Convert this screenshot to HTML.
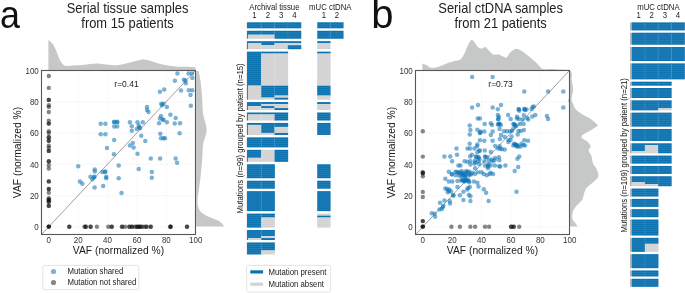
<!DOCTYPE html>
<html><head><meta charset="utf-8"><style>
html,body{margin:0;padding:0;background:#fff;width:685px;height:293px;overflow:hidden}
svg{display:block}
text{font-family:"Liberation Sans", sans-serif}
svg{will-change:transform}
</style></head><body>
<svg width="685" height="293" viewBox="0 0 685 293">
<rect width="685" height="293" fill="#fff"/>
<text x="0" y="27.8" font-size="39" fill="#111" transform="scale(0.92,1)">a</text>
<text x="371.3" y="27.6" font-size="40" fill="#111">b</text>
<text transform="translate(127.5,12.95) scale(1,1.08)" font-size="12.9" text-anchor="middle" fill="#222">Serial tissue samples</text>
<text transform="translate(127.5,28.2) scale(1,1.08)" font-size="12.9" text-anchor="middle" fill="#222">from 15 patients</text>
<text transform="translate(500.6,12.95) scale(1,1.08)" font-size="12.9" text-anchor="middle" fill="#222">Serial ctDNA samples</text>
<text transform="translate(500.6,28.2) scale(1,1.08)" font-size="12.9" text-anchor="middle" fill="#222">from 21 patients</text>
<path d="M48.40,40.00 C49.18,40.75 51.78,42.67 53.10,44.50 C54.42,46.33 55.25,48.60 56.30,51.00 C57.35,53.40 58.32,56.70 59.40,58.90 C60.48,61.10 61.57,63.02 62.80,64.20 C64.03,65.38 64.82,65.83 66.80,66.00 C68.78,66.17 72.08,65.38 74.70,65.20 C77.32,65.02 79.88,65.12 82.50,64.90 C85.12,64.68 87.98,64.15 90.40,63.90 C92.82,63.65 94.80,63.35 97.00,63.40 C99.20,63.45 100.75,63.90 103.60,64.20 C106.45,64.50 111.03,65.17 114.10,65.20 C117.17,65.23 119.38,64.83 122.00,64.40 C124.62,63.97 127.18,63.25 129.80,62.60 C132.42,61.95 135.28,61.03 137.70,60.50 C140.12,59.97 142.10,59.32 144.30,59.40 C146.50,59.48 148.50,60.33 150.90,61.00 C153.30,61.67 156.08,62.70 158.70,63.40 C161.32,64.10 163.75,64.68 166.60,65.20 C169.45,65.72 172.73,66.23 175.80,66.50 C178.87,66.77 182.37,66.72 185.00,66.80 C187.63,66.88 189.85,66.90 191.60,67.00 C193.35,67.10 194.85,67.33 195.50,67.40 L195.5,69.9 L48.4,69.9 Z" fill="#c6c7c7"/>
<path d="M198.70,70.90 C198.82,71.58 199.12,73.43 199.40,75.00 C199.68,76.57 200.08,78.13 200.40,80.30 C200.72,82.47 201.03,85.43 201.30,88.00 C201.57,90.57 201.82,93.37 202.00,95.70 C202.18,98.03 202.30,99.95 202.40,102.00 C202.50,104.05 202.50,106.17 202.60,108.00 C202.70,109.83 202.78,111.42 203.00,113.00 C203.22,114.58 203.53,116.00 203.90,117.50 C204.27,119.00 204.82,120.50 205.20,122.00 C205.58,123.50 205.97,125.17 206.20,126.50 C206.43,127.83 206.60,128.83 206.60,130.00 C206.60,131.17 206.45,132.25 206.20,133.50 C205.95,134.75 205.52,136.17 205.10,137.50 C204.68,138.83 204.07,140.08 203.70,141.50 C203.33,142.92 203.10,144.25 202.90,146.00 C202.70,147.75 202.63,149.62 202.50,152.00 C202.37,154.38 202.40,156.35 202.10,160.30 C201.80,164.25 201.25,170.75 200.70,175.70 C200.15,180.65 199.33,186.08 198.80,190.00 C198.27,193.92 197.65,196.65 197.50,199.20 C197.35,201.75 197.58,203.52 197.90,205.30 C198.22,207.08 198.67,208.62 199.40,209.90 C200.13,211.18 201.05,211.97 202.30,213.00 C203.55,214.03 205.12,215.20 206.90,216.10 C208.68,217.00 211.08,217.63 213.00,218.40 C214.92,219.17 217.00,219.93 218.40,220.70 C219.80,221.47 220.38,222.02 221.40,223.00 C222.42,223.98 223.98,226.00 224.50,226.60 L196.1,226.6 L196.1,70.9 Z" fill="#c6c7c7"/>
<line x1="48.80" y1="70.5" x2="48.80" y2="234.5" stroke="#e6e6e6" stroke-width="0.6" stroke-dasharray="1 1.2"/>
<line x1="41.5" y1="226.80" x2="195.5" y2="226.80" stroke="#e6e6e6" stroke-width="0.6" stroke-dasharray="1 1.2"/>
<line x1="78.18" y1="70.5" x2="78.18" y2="234.5" stroke="#e6e6e6" stroke-width="0.6" stroke-dasharray="1 1.2"/>
<line x1="41.5" y1="195.58" x2="195.5" y2="195.58" stroke="#e6e6e6" stroke-width="0.6" stroke-dasharray="1 1.2"/>
<line x1="107.56" y1="70.5" x2="107.56" y2="234.5" stroke="#e6e6e6" stroke-width="0.6" stroke-dasharray="1 1.2"/>
<line x1="41.5" y1="164.36" x2="195.5" y2="164.36" stroke="#e6e6e6" stroke-width="0.6" stroke-dasharray="1 1.2"/>
<line x1="136.94" y1="70.5" x2="136.94" y2="234.5" stroke="#e6e6e6" stroke-width="0.6" stroke-dasharray="1 1.2"/>
<line x1="41.5" y1="133.14" x2="195.5" y2="133.14" stroke="#e6e6e6" stroke-width="0.6" stroke-dasharray="1 1.2"/>
<line x1="166.32" y1="70.5" x2="166.32" y2="234.5" stroke="#e6e6e6" stroke-width="0.6" stroke-dasharray="1 1.2"/>
<line x1="41.5" y1="101.92" x2="195.5" y2="101.92" stroke="#e6e6e6" stroke-width="0.6" stroke-dasharray="1 1.2"/>
<line x1="195.70" y1="70.5" x2="195.70" y2="234.5" stroke="#e6e6e6" stroke-width="0.6" stroke-dasharray="1 1.2"/>
<line x1="41.5" y1="70.70" x2="195.5" y2="70.70" stroke="#e6e6e6" stroke-width="0.6" stroke-dasharray="1 1.2"/>
<line x1="41.5" y1="234.5" x2="195.5" y2="70.5" stroke="#505050" stroke-width="0.55"/>
<clipPath id="clip0"><rect x="41.5" y="70.5" width="154.00" height="164.00"/></clipPath>
<g clip-path="url(#clip0)">
<circle cx="48.8" cy="76.0" r="2.2" fill="#000" fill-opacity="0.47"/>
<circle cx="48.8" cy="87.9" r="2.2" fill="#000" fill-opacity="0.47"/>
<circle cx="48.8" cy="99.9" r="2.2" fill="#000" fill-opacity="0.47"/>
<circle cx="48.8" cy="99.9" r="2.2" fill="#000" fill-opacity="0.47"/>
<circle cx="48.8" cy="105.3" r="2.2" fill="#000" fill-opacity="0.47"/>
<circle cx="48.8" cy="106.9" r="2.2" fill="#000" fill-opacity="0.47"/>
<circle cx="48.8" cy="112.0" r="2.2" fill="#000" fill-opacity="0.47"/>
<circle cx="48.8" cy="120.6" r="2.2" fill="#000" fill-opacity="0.47"/>
<circle cx="48.8" cy="123.6" r="2.2" fill="#000" fill-opacity="0.47"/>
<circle cx="48.8" cy="123.6" r="2.2" fill="#000" fill-opacity="0.47"/>
<circle cx="48.8" cy="131.3" r="2.2" fill="#000" fill-opacity="0.47"/>
<circle cx="48.8" cy="133.0" r="2.2" fill="#000" fill-opacity="0.47"/>
<circle cx="48.8" cy="137.3" r="2.2" fill="#000" fill-opacity="0.47"/>
<circle cx="48.8" cy="137.3" r="2.2" fill="#000" fill-opacity="0.47"/>
<circle cx="48.8" cy="140.7" r="2.2" fill="#000" fill-opacity="0.47"/>
<circle cx="48.8" cy="140.7" r="2.2" fill="#000" fill-opacity="0.47"/>
<circle cx="48.8" cy="145.8" r="2.2" fill="#000" fill-opacity="0.47"/>
<circle cx="48.8" cy="147.8" r="2.2" fill="#000" fill-opacity="0.47"/>
<circle cx="48.8" cy="150.9" r="2.2" fill="#000" fill-opacity="0.47"/>
<circle cx="48.8" cy="150.9" r="2.2" fill="#000" fill-opacity="0.47"/>
<circle cx="48.8" cy="161.3" r="2.2" fill="#000" fill-opacity="0.47"/>
<circle cx="48.8" cy="161.5" r="2.2" fill="#000" fill-opacity="0.47"/>
<circle cx="48.8" cy="165.2" r="2.2" fill="#000" fill-opacity="0.47"/>
<circle cx="48.8" cy="168.6" r="2.2" fill="#000" fill-opacity="0.47"/>
<circle cx="48.8" cy="181.4" r="2.2" fill="#000" fill-opacity="0.47"/>
<circle cx="48.8" cy="181.4" r="2.2" fill="#000" fill-opacity="0.47"/>
<circle cx="48.8" cy="189.0" r="2.2" fill="#000" fill-opacity="0.47"/>
<circle cx="48.8" cy="189.0" r="2.2" fill="#000" fill-opacity="0.47"/>
<circle cx="48.8" cy="192.8" r="2.2" fill="#000" fill-opacity="0.47"/>
<circle cx="48.8" cy="198.3" r="2.2" fill="#000" fill-opacity="0.47"/>
<circle cx="48.8" cy="199.2" r="2.2" fill="#000" fill-opacity="0.47"/>
<circle cx="48.8" cy="200.2" r="2.2" fill="#000" fill-opacity="0.47"/>
<circle cx="48.8" cy="201.2" r="2.2" fill="#000" fill-opacity="0.47"/>
<circle cx="48.8" cy="202.2" r="2.2" fill="#000" fill-opacity="0.47"/>
<circle cx="48.8" cy="205.7" r="2.2" fill="#000" fill-opacity="0.47"/>
<circle cx="48.8" cy="205.9" r="2.2" fill="#000" fill-opacity="0.47"/>
<circle cx="48.8" cy="226.6" r="2.2" fill="#000" fill-opacity="0.47"/>
<circle cx="48.8" cy="226.6" r="2.2" fill="#000" fill-opacity="0.47"/>
<circle cx="48.8" cy="226.6" r="2.2" fill="#000" fill-opacity="0.47"/>
<circle cx="69.2" cy="226.8" r="2.2" fill="#000" fill-opacity="0.47"/>
<circle cx="69.4" cy="226.8" r="2.2" fill="#000" fill-opacity="0.47"/>
<circle cx="84.5" cy="226.8" r="2.2" fill="#000" fill-opacity="0.47"/>
<circle cx="85.5" cy="226.8" r="2.2" fill="#000" fill-opacity="0.47"/>
<circle cx="86.0" cy="226.8" r="2.2" fill="#000" fill-opacity="0.47"/>
<circle cx="90.4" cy="226.8" r="2.2" fill="#000" fill-opacity="0.47"/>
<circle cx="90.8" cy="226.8" r="2.2" fill="#000" fill-opacity="0.47"/>
<circle cx="96.9" cy="226.8" r="2.2" fill="#000" fill-opacity="0.47"/>
<circle cx="108.3" cy="226.8" r="2.2" fill="#000" fill-opacity="0.47"/>
<circle cx="111.5" cy="226.8" r="2.2" fill="#000" fill-opacity="0.47"/>
<circle cx="112.0" cy="226.8" r="2.2" fill="#000" fill-opacity="0.47"/>
<circle cx="121.8" cy="226.8" r="2.2" fill="#000" fill-opacity="0.47"/>
<circle cx="122.3" cy="226.8" r="2.2" fill="#000" fill-opacity="0.47"/>
<circle cx="125.1" cy="226.8" r="2.2" fill="#000" fill-opacity="0.47"/>
<circle cx="129.2" cy="226.8" r="2.2" fill="#000" fill-opacity="0.47"/>
<circle cx="129.6" cy="226.8" r="2.2" fill="#000" fill-opacity="0.47"/>
<circle cx="132.0" cy="226.8" r="2.2" fill="#000" fill-opacity="0.47"/>
<circle cx="132.4" cy="226.8" r="2.2" fill="#000" fill-opacity="0.47"/>
<circle cx="135.2" cy="226.8" r="2.2" fill="#000" fill-opacity="0.47"/>
<circle cx="136.6" cy="226.8" r="2.2" fill="#000" fill-opacity="0.47"/>
<circle cx="137.6" cy="226.8" r="2.2" fill="#000" fill-opacity="0.47"/>
<circle cx="138.6" cy="226.8" r="2.2" fill="#000" fill-opacity="0.47"/>
<circle cx="139.7" cy="226.8" r="2.2" fill="#000" fill-opacity="0.47"/>
<circle cx="140.7" cy="226.8" r="2.2" fill="#000" fill-opacity="0.47"/>
<circle cx="141.9" cy="226.8" r="2.2" fill="#000" fill-opacity="0.47"/>
<circle cx="144.1" cy="226.8" r="2.2" fill="#000" fill-opacity="0.47"/>
<circle cx="146.3" cy="226.8" r="2.2" fill="#000" fill-opacity="0.47"/>
<circle cx="146.6" cy="226.8" r="2.2" fill="#000" fill-opacity="0.47"/>
<circle cx="150.5" cy="226.8" r="2.2" fill="#000" fill-opacity="0.47"/>
<circle cx="150.9" cy="226.8" r="2.2" fill="#000" fill-opacity="0.47"/>
<circle cx="170.4" cy="226.8" r="2.2" fill="#000" fill-opacity="0.47"/>
<circle cx="170.4" cy="226.8" r="2.2" fill="#000" fill-opacity="0.47"/>
<circle cx="170.6" cy="226.8" r="2.2" fill="#000" fill-opacity="0.47"/>
<circle cx="186.9" cy="226.8" r="2.2" fill="#000" fill-opacity="0.47"/>
<circle cx="187.1" cy="226.8" r="2.2" fill="#000" fill-opacity="0.47"/>
<circle cx="177.4" cy="73.4" r="2.25" fill="#0b72b5" fill-opacity="0.55"/>
<circle cx="188.6" cy="73.4" r="2.25" fill="#0b72b5" fill-opacity="0.55"/>
<circle cx="192.0" cy="73.4" r="2.25" fill="#0b72b5" fill-opacity="0.55"/>
<circle cx="192.4" cy="77.9" r="2.25" fill="#0b72b5" fill-opacity="0.55"/>
<circle cx="174.9" cy="80.8" r="2.25" fill="#0b72b5" fill-opacity="0.55"/>
<circle cx="183.9" cy="79.7" r="2.25" fill="#0b72b5" fill-opacity="0.55"/>
<circle cx="185.4" cy="80.4" r="2.25" fill="#0b72b5" fill-opacity="0.55"/>
<circle cx="185.8" cy="83.3" r="2.25" fill="#0b72b5" fill-opacity="0.55"/>
<circle cx="181.0" cy="90.6" r="2.25" fill="#0b72b5" fill-opacity="0.55"/>
<circle cx="188.8" cy="90.2" r="2.25" fill="#0b72b5" fill-opacity="0.55"/>
<circle cx="192.3" cy="90.2" r="2.25" fill="#0b72b5" fill-opacity="0.55"/>
<circle cx="190.5" cy="95.0" r="2.25" fill="#0b72b5" fill-opacity="0.55"/>
<circle cx="164.2" cy="89.5" r="2.25" fill="#0b72b5" fill-opacity="0.55"/>
<circle cx="159.9" cy="91.8" r="2.25" fill="#0b72b5" fill-opacity="0.55"/>
<circle cx="161.3" cy="103.8" r="2.25" fill="#0b72b5" fill-opacity="0.55"/>
<circle cx="163.5" cy="103.8" r="2.25" fill="#0b72b5" fill-opacity="0.55"/>
<circle cx="162.0" cy="105.2" r="2.25" fill="#0b72b5" fill-opacity="0.55"/>
<circle cx="166.9" cy="107.1" r="2.25" fill="#0b72b5" fill-opacity="0.55"/>
<circle cx="147.0" cy="107.1" r="2.25" fill="#0b72b5" fill-opacity="0.55"/>
<circle cx="190.8" cy="105.7" r="2.25" fill="#0b72b5" fill-opacity="0.55"/>
<circle cx="147.0" cy="110.1" r="2.25" fill="#0b72b5" fill-opacity="0.55"/>
<circle cx="148.5" cy="112.0" r="2.25" fill="#0b72b5" fill-opacity="0.55"/>
<circle cx="170.4" cy="114.8" r="2.25" fill="#0b72b5" fill-opacity="0.55"/>
<circle cx="175.6" cy="118.1" r="2.25" fill="#0b72b5" fill-opacity="0.55"/>
<circle cx="161.0" cy="115.9" r="2.25" fill="#0b72b5" fill-opacity="0.55"/>
<circle cx="159.9" cy="118.4" r="2.25" fill="#0b72b5" fill-opacity="0.55"/>
<circle cx="162.8" cy="119.6" r="2.25" fill="#0b72b5" fill-opacity="0.55"/>
<circle cx="163.5" cy="120.0" r="2.25" fill="#0b72b5" fill-opacity="0.55"/>
<circle cx="166.9" cy="122.2" r="2.25" fill="#0b72b5" fill-opacity="0.55"/>
<circle cx="159.1" cy="123.2" r="2.25" fill="#0b72b5" fill-opacity="0.55"/>
<circle cx="174.7" cy="123.5" r="2.25" fill="#0b72b5" fill-opacity="0.55"/>
<circle cx="180.0" cy="123.2" r="2.25" fill="#0b72b5" fill-opacity="0.55"/>
<circle cx="179.6" cy="133.2" r="2.25" fill="#0b72b5" fill-opacity="0.55"/>
<circle cx="160.3" cy="133.8" r="2.25" fill="#0b72b5" fill-opacity="0.55"/>
<circle cx="161.0" cy="138.3" r="2.25" fill="#0b72b5" fill-opacity="0.55"/>
<circle cx="163.5" cy="138.3" r="2.25" fill="#0b72b5" fill-opacity="0.55"/>
<circle cx="165.0" cy="138.3" r="2.25" fill="#0b72b5" fill-opacity="0.55"/>
<circle cx="100.7" cy="123.7" r="2.25" fill="#0b72b5" fill-opacity="0.55"/>
<circle cx="105.4" cy="123.7" r="2.25" fill="#0b72b5" fill-opacity="0.55"/>
<circle cx="100.7" cy="134.2" r="2.25" fill="#0b72b5" fill-opacity="0.55"/>
<circle cx="105.4" cy="134.2" r="2.25" fill="#0b72b5" fill-opacity="0.55"/>
<circle cx="114.2" cy="122.2" r="2.25" fill="#0b72b5" fill-opacity="0.55"/>
<circle cx="117.2" cy="122.2" r="2.25" fill="#0b72b5" fill-opacity="0.55"/>
<circle cx="114.2" cy="121.8" r="2.25" fill="#0b72b5" fill-opacity="0.55"/>
<circle cx="117.2" cy="121.8" r="2.25" fill="#0b72b5" fill-opacity="0.55"/>
<circle cx="114.2" cy="126.6" r="2.25" fill="#0b72b5" fill-opacity="0.55"/>
<circle cx="117.2" cy="126.6" r="2.25" fill="#0b72b5" fill-opacity="0.55"/>
<circle cx="114.2" cy="140.0" r="2.25" fill="#0b72b5" fill-opacity="0.55"/>
<circle cx="129.9" cy="122.2" r="2.25" fill="#0b72b5" fill-opacity="0.55"/>
<circle cx="131.8" cy="126.2" r="2.25" fill="#0b72b5" fill-opacity="0.55"/>
<circle cx="131.8" cy="130.8" r="2.25" fill="#0b72b5" fill-opacity="0.55"/>
<circle cx="137.5" cy="122.2" r="2.25" fill="#0b72b5" fill-opacity="0.55"/>
<circle cx="142.8" cy="122.2" r="2.25" fill="#0b72b5" fill-opacity="0.55"/>
<circle cx="138.7" cy="125.4" r="2.25" fill="#0b72b5" fill-opacity="0.55"/>
<circle cx="139.4" cy="127.6" r="2.25" fill="#0b72b5" fill-opacity="0.55"/>
<circle cx="139.9" cy="128.0" r="2.25" fill="#0b72b5" fill-opacity="0.55"/>
<circle cx="136.8" cy="129.1" r="2.25" fill="#0b72b5" fill-opacity="0.55"/>
<circle cx="141.3" cy="135.7" r="2.25" fill="#0b72b5" fill-opacity="0.55"/>
<circle cx="145.3" cy="141.1" r="2.25" fill="#0b72b5" fill-opacity="0.55"/>
<circle cx="132.8" cy="143.0" r="2.25" fill="#0b72b5" fill-opacity="0.55"/>
<circle cx="129.9" cy="145.4" r="2.25" fill="#0b72b5" fill-opacity="0.55"/>
<circle cx="107.0" cy="148.0" r="2.25" fill="#0b72b5" fill-opacity="0.55"/>
<circle cx="113.9" cy="154.2" r="2.25" fill="#0b72b5" fill-opacity="0.55"/>
<circle cx="133.6" cy="147.5" r="2.25" fill="#0b72b5" fill-opacity="0.55"/>
<circle cx="137.5" cy="153.7" r="2.25" fill="#0b72b5" fill-opacity="0.55"/>
<circle cx="150.8" cy="158.5" r="2.25" fill="#0b72b5" fill-opacity="0.55"/>
<circle cx="160.1" cy="158.5" r="2.25" fill="#0b72b5" fill-opacity="0.55"/>
<circle cx="175.6" cy="158.5" r="2.25" fill="#0b72b5" fill-opacity="0.55"/>
<circle cx="177.1" cy="162.7" r="2.25" fill="#0b72b5" fill-opacity="0.55"/>
<circle cx="118.7" cy="165.4" r="2.25" fill="#0b72b5" fill-opacity="0.55"/>
<circle cx="138.7" cy="169.0" r="2.25" fill="#0b72b5" fill-opacity="0.55"/>
<circle cx="151.8" cy="171.9" r="2.25" fill="#0b72b5" fill-opacity="0.55"/>
<circle cx="151.8" cy="177.8" r="2.25" fill="#0b72b5" fill-opacity="0.55"/>
<circle cx="118.7" cy="178.2" r="2.25" fill="#0b72b5" fill-opacity="0.55"/>
<circle cx="102.3" cy="171.9" r="2.25" fill="#0b72b5" fill-opacity="0.55"/>
<circle cx="105.0" cy="171.9" r="2.25" fill="#0b72b5" fill-opacity="0.55"/>
<circle cx="105.3" cy="171.5" r="2.25" fill="#0b72b5" fill-opacity="0.55"/>
<circle cx="106.2" cy="176.7" r="2.25" fill="#0b72b5" fill-opacity="0.55"/>
<circle cx="106.2" cy="178.2" r="2.25" fill="#0b72b5" fill-opacity="0.55"/>
<circle cx="78.2" cy="166.2" r="2.25" fill="#0b72b5" fill-opacity="0.55"/>
<circle cx="94.7" cy="169.6" r="2.25" fill="#0b72b5" fill-opacity="0.55"/>
<circle cx="94.8" cy="171.6" r="2.25" fill="#0b72b5" fill-opacity="0.55"/>
<circle cx="90.5" cy="176.7" r="2.25" fill="#0b72b5" fill-opacity="0.55"/>
<circle cx="93.9" cy="177.3" r="2.25" fill="#0b72b5" fill-opacity="0.55"/>
<circle cx="92.4" cy="179.2" r="2.25" fill="#0b72b5" fill-opacity="0.55"/>
<circle cx="94.5" cy="176.8" r="2.25" fill="#0b72b5" fill-opacity="0.55"/>
<circle cx="79.9" cy="181.5" r="2.25" fill="#0b72b5" fill-opacity="0.55"/>
<circle cx="82.3" cy="183.7" r="2.25" fill="#0b72b5" fill-opacity="0.55"/>
<circle cx="94.6" cy="187.5" r="2.25" fill="#0b72b5" fill-opacity="0.55"/>
<circle cx="103.2" cy="185.9" r="2.25" fill="#0b72b5" fill-opacity="0.55"/>
<circle cx="121.5" cy="193.0" r="2.25" fill="#0b72b5" fill-opacity="0.55"/>
</g>
<rect x="41.5" y="70.5" width="154.00" height="164.00" fill="none" stroke="#575757" stroke-width="1.1"/>
<text transform="translate(48.80,242.8) scale(1,1.1)" font-size="8" text-anchor="middle" fill="#333">0</text>
<text transform="translate(38.80,230.15) scale(1,1.1)" font-size="8" text-anchor="end" fill="#333">0</text>
<text transform="translate(78.18,242.8) scale(1,1.1)" font-size="8" text-anchor="middle" fill="#333">20</text>
<text transform="translate(38.80,198.93) scale(1,1.1)" font-size="8" text-anchor="end" fill="#333">20</text>
<text transform="translate(107.56,242.8) scale(1,1.1)" font-size="8" text-anchor="middle" fill="#333">40</text>
<text transform="translate(38.80,167.71) scale(1,1.1)" font-size="8" text-anchor="end" fill="#333">40</text>
<text transform="translate(136.94,242.8) scale(1,1.1)" font-size="8" text-anchor="middle" fill="#333">60</text>
<text transform="translate(38.80,136.49) scale(1,1.1)" font-size="8" text-anchor="end" fill="#333">60</text>
<text transform="translate(166.32,242.8) scale(1,1.1)" font-size="8" text-anchor="middle" fill="#333">80</text>
<text transform="translate(38.80,105.27) scale(1,1.1)" font-size="8" text-anchor="end" fill="#333">80</text>
<text transform="translate(195.70,242.8) scale(1,1.1)" font-size="8" text-anchor="middle" fill="#333">100</text>
<text transform="translate(38.80,74.05) scale(1,1.1)" font-size="8" text-anchor="end" fill="#333">100</text>
<text transform="translate(118.50,253.8) scale(1,1.1)" font-size="10.3" text-anchor="middle" fill="#1a1a1a">VAF (normalized %)</text>
<text transform="translate(21.30,152.50) rotate(-90) scale(1,1.04)" font-size="10.3" text-anchor="middle" fill="#1a1a1a">VAF (normalized %)</text>
<text transform="translate(114.30,86.6) scale(1,1.1)" font-size="8.5" fill="#1a1a1a">r=0.41</text>
<path d="M422.30,63.40 C422.97,63.67 424.98,64.33 426.30,65.00 C427.62,65.67 428.67,66.97 430.20,67.40 C431.73,67.83 433.53,67.92 435.50,67.60 C437.47,67.28 439.82,66.30 442.00,65.50 C444.18,64.70 446.40,63.60 448.60,62.80 C450.80,62.00 453.23,61.27 455.20,60.70 C457.17,60.13 458.87,60.58 460.40,59.40 C461.93,58.22 463.08,56.08 464.40,53.60 C465.72,51.12 467.12,46.77 468.30,44.50 C469.48,42.23 470.53,40.45 471.50,40.00 C472.47,39.55 472.97,40.53 474.10,41.80 C475.23,43.07 476.98,46.50 478.30,47.60 C479.62,48.70 480.82,48.48 482.00,48.40 C483.18,48.32 484.18,46.67 485.40,47.10 C486.62,47.53 487.98,49.75 489.30,51.00 C490.62,52.25 491.77,54.03 493.30,54.60 C494.83,55.17 496.97,54.12 498.50,54.40 C500.03,54.68 501.18,55.80 502.50,56.30 C503.82,56.80 505.08,58.07 506.40,57.40 C507.72,56.73 508.87,53.72 510.40,52.30 C511.93,50.88 513.85,49.20 515.60,48.90 C517.35,48.60 519.15,49.62 520.90,50.50 C522.65,51.38 524.13,52.72 526.10,54.20 C528.07,55.68 530.73,57.73 532.70,59.40 C534.67,61.07 536.37,62.70 537.90,64.20 C539.43,65.70 540.37,67.57 541.90,68.40 C543.43,69.23 545.35,69.10 547.10,69.20 C548.85,69.30 550.20,68.93 552.40,69.00 C554.60,69.07 557.45,69.47 560.30,69.60 C563.15,69.73 567.97,69.77 569.50,69.80 L569.5,69.9 L422.3,69.9 Z" fill="#c6c7c7"/>
<path d="M570.80,70.90 C571.00,71.48 571.88,73.03 572.00,74.40 C572.12,75.77 571.43,77.52 571.50,79.10 C571.57,80.68 572.12,82.10 572.40,83.90 C572.68,85.70 573.27,87.90 573.20,89.90 C573.13,91.90 572.28,94.30 572.00,95.90 C571.72,97.50 571.30,98.10 571.50,99.50 C571.70,100.90 572.53,102.72 573.20,104.30 C573.87,105.88 574.12,107.42 575.50,109.00 C576.88,110.58 579.10,112.20 581.50,113.80 C583.90,115.40 587.50,117.00 589.90,118.60 C592.30,120.20 594.62,122.22 595.90,123.40 C597.18,124.58 598.47,124.55 597.60,125.70 C596.73,126.85 593.38,128.52 590.70,130.30 C588.02,132.08 582.02,134.48 581.50,136.40 C580.98,138.32 586.07,140.13 587.60,141.80 C589.13,143.47 590.53,144.97 590.70,146.40 C590.87,147.83 588.48,148.85 588.60,150.40 C588.72,151.95 590.67,153.53 591.40,155.70 C592.13,157.87 592.10,161.10 593.00,163.40 C593.90,165.70 595.92,167.33 596.80,169.50 C597.68,171.67 598.82,174.35 598.30,176.40 C597.78,178.45 595.48,180.03 593.70,181.80 C591.92,183.57 589.00,185.63 587.60,187.00 C586.20,188.37 585.93,188.73 585.30,190.00 C584.67,191.27 584.32,192.93 583.80,194.60 C583.28,196.27 583.35,198.22 582.20,200.00 C581.05,201.78 578.43,203.38 576.90,205.30 C575.37,207.22 573.77,209.32 573.00,211.50 C572.23,213.68 571.92,216.48 572.30,218.40 C572.68,220.32 574.42,221.67 575.30,223.00 C576.18,224.33 577.22,225.83 577.60,226.40 L570,226.6 L570,70.9 Z" fill="#c6c7c7"/>
<line x1="422.80" y1="70.5" x2="422.80" y2="234.5" stroke="#e6e6e6" stroke-width="0.6" stroke-dasharray="1 1.2"/>
<line x1="415.5" y1="226.80" x2="569.5" y2="226.80" stroke="#e6e6e6" stroke-width="0.6" stroke-dasharray="1 1.2"/>
<line x1="452.18" y1="70.5" x2="452.18" y2="234.5" stroke="#e6e6e6" stroke-width="0.6" stroke-dasharray="1 1.2"/>
<line x1="415.5" y1="195.58" x2="569.5" y2="195.58" stroke="#e6e6e6" stroke-width="0.6" stroke-dasharray="1 1.2"/>
<line x1="481.56" y1="70.5" x2="481.56" y2="234.5" stroke="#e6e6e6" stroke-width="0.6" stroke-dasharray="1 1.2"/>
<line x1="415.5" y1="164.36" x2="569.5" y2="164.36" stroke="#e6e6e6" stroke-width="0.6" stroke-dasharray="1 1.2"/>
<line x1="510.94" y1="70.5" x2="510.94" y2="234.5" stroke="#e6e6e6" stroke-width="0.6" stroke-dasharray="1 1.2"/>
<line x1="415.5" y1="133.14" x2="569.5" y2="133.14" stroke="#e6e6e6" stroke-width="0.6" stroke-dasharray="1 1.2"/>
<line x1="540.32" y1="70.5" x2="540.32" y2="234.5" stroke="#e6e6e6" stroke-width="0.6" stroke-dasharray="1 1.2"/>
<line x1="415.5" y1="101.92" x2="569.5" y2="101.92" stroke="#e6e6e6" stroke-width="0.6" stroke-dasharray="1 1.2"/>
<line x1="569.70" y1="70.5" x2="569.70" y2="234.5" stroke="#e6e6e6" stroke-width="0.6" stroke-dasharray="1 1.2"/>
<line x1="415.5" y1="70.70" x2="569.5" y2="70.70" stroke="#e6e6e6" stroke-width="0.6" stroke-dasharray="1 1.2"/>
<line x1="415.5" y1="234.5" x2="569.5" y2="70.5" stroke="#505050" stroke-width="0.55"/>
<clipPath id="clip374"><rect x="415.5" y="70.5" width="154.00" height="164.00"/></clipPath>
<g clip-path="url(#clip374)">
<circle cx="422.8" cy="131.3" r="2.2" fill="#000" fill-opacity="0.47"/>
<circle cx="422.8" cy="156.6" r="2.2" fill="#000" fill-opacity="0.47"/>
<circle cx="422.8" cy="172.2" r="2.2" fill="#000" fill-opacity="0.47"/>
<circle cx="422.8" cy="172.8" r="2.2" fill="#000" fill-opacity="0.47"/>
<circle cx="422.8" cy="173.4" r="2.2" fill="#000" fill-opacity="0.47"/>
<circle cx="422.8" cy="176.3" r="2.2" fill="#000" fill-opacity="0.47"/>
<circle cx="422.8" cy="191.9" r="2.2" fill="#000" fill-opacity="0.47"/>
<circle cx="422.8" cy="197.0" r="2.2" fill="#000" fill-opacity="0.47"/>
<circle cx="422.8" cy="221.1" r="2.2" fill="#000" fill-opacity="0.47"/>
<circle cx="422.8" cy="221.1" r="2.2" fill="#000" fill-opacity="0.47"/>
<circle cx="422.8" cy="226.6" r="2.2" fill="#000" fill-opacity="0.47"/>
<circle cx="422.8" cy="226.6" r="2.2" fill="#000" fill-opacity="0.47"/>
<circle cx="422.8" cy="226.6" r="2.2" fill="#000" fill-opacity="0.47"/>
<circle cx="451.4" cy="226.8" r="2.2" fill="#000" fill-opacity="0.47"/>
<circle cx="459.9" cy="226.8" r="2.2" fill="#000" fill-opacity="0.47"/>
<circle cx="470.4" cy="226.8" r="2.2" fill="#000" fill-opacity="0.47"/>
<circle cx="475.1" cy="226.8" r="2.2" fill="#000" fill-opacity="0.47"/>
<circle cx="485.0" cy="226.8" r="2.2" fill="#000" fill-opacity="0.47"/>
<circle cx="489.1" cy="226.8" r="2.2" fill="#000" fill-opacity="0.47"/>
<circle cx="511.0" cy="226.8" r="2.2" fill="#000" fill-opacity="0.47"/>
<circle cx="511.2" cy="226.8" r="2.2" fill="#000" fill-opacity="0.47"/>
<circle cx="513.4" cy="226.8" r="2.2" fill="#000" fill-opacity="0.47"/>
<circle cx="514.0" cy="226.8" r="2.2" fill="#000" fill-opacity="0.47"/>
<circle cx="519.2" cy="226.8" r="2.2" fill="#000" fill-opacity="0.47"/>
<circle cx="472.1" cy="77.1" r="2.25" fill="#0b72b5" fill-opacity="0.55"/>
<circle cx="492.6" cy="77.1" r="2.25" fill="#0b72b5" fill-opacity="0.55"/>
<circle cx="478.0" cy="104.9" r="2.25" fill="#0b72b5" fill-opacity="0.55"/>
<circle cx="472.1" cy="107.4" r="2.25" fill="#0b72b5" fill-opacity="0.55"/>
<circle cx="492.6" cy="107.4" r="2.25" fill="#0b72b5" fill-opacity="0.55"/>
<circle cx="501.0" cy="104.9" r="2.25" fill="#0b72b5" fill-opacity="0.55"/>
<circle cx="497.8" cy="109.2" r="2.25" fill="#0b72b5" fill-opacity="0.55"/>
<circle cx="497.8" cy="114.9" r="2.25" fill="#0b72b5" fill-opacity="0.55"/>
<circle cx="498.9" cy="116.7" r="2.25" fill="#0b72b5" fill-opacity="0.55"/>
<circle cx="498.1" cy="118.9" r="2.25" fill="#0b72b5" fill-opacity="0.55"/>
<circle cx="508.1" cy="114.9" r="2.25" fill="#0b72b5" fill-opacity="0.55"/>
<circle cx="510.7" cy="118.9" r="2.25" fill="#0b72b5" fill-opacity="0.55"/>
<circle cx="477.7" cy="118.4" r="2.25" fill="#0b72b5" fill-opacity="0.55"/>
<circle cx="479.9" cy="118.4" r="2.25" fill="#0b72b5" fill-opacity="0.55"/>
<circle cx="484.7" cy="124.0" r="2.25" fill="#0b72b5" fill-opacity="0.55"/>
<circle cx="490.8" cy="123.2" r="2.25" fill="#0b72b5" fill-opacity="0.55"/>
<circle cx="492.0" cy="125.0" r="2.25" fill="#0b72b5" fill-opacity="0.55"/>
<circle cx="498.1" cy="124.3" r="2.25" fill="#0b72b5" fill-opacity="0.55"/>
<circle cx="499.3" cy="123.7" r="2.25" fill="#0b72b5" fill-opacity="0.55"/>
<circle cx="500.8" cy="125.1" r="2.25" fill="#0b72b5" fill-opacity="0.55"/>
<circle cx="469.7" cy="125.4" r="2.25" fill="#0b72b5" fill-opacity="0.55"/>
<circle cx="470.4" cy="130.1" r="2.25" fill="#0b72b5" fill-opacity="0.55"/>
<circle cx="469.7" cy="134.5" r="2.25" fill="#0b72b5" fill-opacity="0.55"/>
<circle cx="477.4" cy="129.8" r="2.25" fill="#0b72b5" fill-opacity="0.55"/>
<circle cx="479.9" cy="132.7" r="2.25" fill="#0b72b5" fill-opacity="0.55"/>
<circle cx="480.6" cy="131.6" r="2.25" fill="#0b72b5" fill-opacity="0.55"/>
<circle cx="484.3" cy="131.6" r="2.25" fill="#0b72b5" fill-opacity="0.55"/>
<circle cx="492.6" cy="131.6" r="2.25" fill="#0b72b5" fill-opacity="0.55"/>
<circle cx="490.8" cy="134.9" r="2.25" fill="#0b72b5" fill-opacity="0.55"/>
<circle cx="499.6" cy="129.1" r="2.25" fill="#0b72b5" fill-opacity="0.55"/>
<circle cx="501.0" cy="134.9" r="2.25" fill="#0b72b5" fill-opacity="0.55"/>
<circle cx="504.0" cy="131.3" r="2.25" fill="#0b72b5" fill-opacity="0.55"/>
<circle cx="506.9" cy="131.3" r="2.25" fill="#0b72b5" fill-opacity="0.55"/>
<circle cx="510.1" cy="131.3" r="2.25" fill="#0b72b5" fill-opacity="0.55"/>
<circle cx="504.7" cy="137.1" r="2.25" fill="#0b72b5" fill-opacity="0.55"/>
<circle cx="508.4" cy="140.0" r="2.25" fill="#0b72b5" fill-opacity="0.55"/>
<circle cx="510.5" cy="140.0" r="2.25" fill="#0b72b5" fill-opacity="0.55"/>
<circle cx="479.9" cy="140.3" r="2.25" fill="#0b72b5" fill-opacity="0.55"/>
<circle cx="484.3" cy="140.8" r="2.25" fill="#0b72b5" fill-opacity="0.55"/>
<circle cx="492.6" cy="140.8" r="2.25" fill="#0b72b5" fill-opacity="0.55"/>
<circle cx="499.9" cy="138.9" r="2.25" fill="#0b72b5" fill-opacity="0.55"/>
<circle cx="469.7" cy="143.7" r="2.25" fill="#0b72b5" fill-opacity="0.55"/>
<circle cx="477.4" cy="144.4" r="2.25" fill="#0b72b5" fill-opacity="0.55"/>
<circle cx="477.0" cy="146.2" r="2.25" fill="#0b72b5" fill-opacity="0.55"/>
<circle cx="495.2" cy="145.9" r="2.25" fill="#0b72b5" fill-opacity="0.55"/>
<circle cx="499.6" cy="146.2" r="2.25" fill="#0b72b5" fill-opacity="0.55"/>
<circle cx="456.5" cy="148.6" r="2.25" fill="#0b72b5" fill-opacity="0.55"/>
<circle cx="467.5" cy="148.6" r="2.25" fill="#0b72b5" fill-opacity="0.55"/>
<circle cx="470.1" cy="148.6" r="2.25" fill="#0b72b5" fill-opacity="0.55"/>
<circle cx="474.5" cy="148.6" r="2.25" fill="#0b72b5" fill-opacity="0.55"/>
<circle cx="479.4" cy="150.5" r="2.25" fill="#0b72b5" fill-opacity="0.55"/>
<circle cx="477.4" cy="152.2" r="2.25" fill="#0b72b5" fill-opacity="0.55"/>
<circle cx="484.7" cy="150.5" r="2.25" fill="#0b72b5" fill-opacity="0.55"/>
<circle cx="490.8" cy="151.9" r="2.25" fill="#0b72b5" fill-opacity="0.55"/>
<circle cx="500.3" cy="148.6" r="2.25" fill="#0b72b5" fill-opacity="0.55"/>
<circle cx="504.7" cy="149.6" r="2.25" fill="#0b72b5" fill-opacity="0.55"/>
<circle cx="508.4" cy="142.0" r="2.25" fill="#0b72b5" fill-opacity="0.55"/>
<circle cx="444.4" cy="156.6" r="2.25" fill="#0b72b5" fill-opacity="0.55"/>
<circle cx="450.2" cy="156.6" r="2.25" fill="#0b72b5" fill-opacity="0.55"/>
<circle cx="457.0" cy="154.8" r="2.25" fill="#0b72b5" fill-opacity="0.55"/>
<circle cx="452.1" cy="161.3" r="2.25" fill="#0b72b5" fill-opacity="0.55"/>
<circle cx="470.1" cy="156.6" r="2.25" fill="#0b72b5" fill-opacity="0.55"/>
<circle cx="471.9" cy="154.8" r="2.25" fill="#0b72b5" fill-opacity="0.55"/>
<circle cx="475.9" cy="156.6" r="2.25" fill="#0b72b5" fill-opacity="0.55"/>
<circle cx="478.4" cy="157.3" r="2.25" fill="#0b72b5" fill-opacity="0.55"/>
<circle cx="479.4" cy="159.2" r="2.25" fill="#0b72b5" fill-opacity="0.55"/>
<circle cx="485.0" cy="156.6" r="2.25" fill="#0b72b5" fill-opacity="0.55"/>
<circle cx="487.2" cy="157.3" r="2.25" fill="#0b72b5" fill-opacity="0.55"/>
<circle cx="491.6" cy="159.5" r="2.25" fill="#0b72b5" fill-opacity="0.55"/>
<circle cx="494.5" cy="160.2" r="2.25" fill="#0b72b5" fill-opacity="0.55"/>
<circle cx="498.9" cy="157.3" r="2.25" fill="#0b72b5" fill-opacity="0.55"/>
<circle cx="499.3" cy="160.2" r="2.25" fill="#0b72b5" fill-opacity="0.55"/>
<circle cx="464.6" cy="161.3" r="2.25" fill="#0b72b5" fill-opacity="0.55"/>
<circle cx="467.5" cy="161.7" r="2.25" fill="#0b72b5" fill-opacity="0.55"/>
<circle cx="470.4" cy="164.6" r="2.25" fill="#0b72b5" fill-opacity="0.55"/>
<circle cx="474.5" cy="163.6" r="2.25" fill="#0b72b5" fill-opacity="0.55"/>
<circle cx="479.2" cy="163.9" r="2.25" fill="#0b72b5" fill-opacity="0.55"/>
<circle cx="458.4" cy="165.4" r="2.25" fill="#0b72b5" fill-opacity="0.55"/>
<circle cx="460.5" cy="165.4" r="2.25" fill="#0b72b5" fill-opacity="0.55"/>
<circle cx="485.0" cy="165.4" r="2.25" fill="#0b72b5" fill-opacity="0.55"/>
<circle cx="487.9" cy="166.5" r="2.25" fill="#0b72b5" fill-opacity="0.55"/>
<circle cx="488.6" cy="163.9" r="2.25" fill="#0b72b5" fill-opacity="0.55"/>
<circle cx="494.9" cy="165.6" r="2.25" fill="#0b72b5" fill-opacity="0.55"/>
<circle cx="500.3" cy="166.5" r="2.25" fill="#0b72b5" fill-opacity="0.55"/>
<circle cx="505.4" cy="165.6" r="2.25" fill="#0b72b5" fill-opacity="0.55"/>
<circle cx="475.1" cy="168.3" r="2.25" fill="#0b72b5" fill-opacity="0.55"/>
<circle cx="487.9" cy="168.3" r="2.25" fill="#0b72b5" fill-opacity="0.55"/>
<circle cx="470.4" cy="161.2" r="2.25" fill="#0b72b5" fill-opacity="0.55"/>
<circle cx="475.0" cy="160.6" r="2.25" fill="#0b72b5" fill-opacity="0.55"/>
<circle cx="478.5" cy="161.2" r="2.25" fill="#0b72b5" fill-opacity="0.55"/>
<circle cx="484.4" cy="161.2" r="2.25" fill="#0b72b5" fill-opacity="0.55"/>
<circle cx="489.0" cy="160.6" r="2.25" fill="#0b72b5" fill-opacity="0.55"/>
<circle cx="492.6" cy="161.2" r="2.25" fill="#0b72b5" fill-opacity="0.55"/>
<circle cx="514.7" cy="171.1" r="2.25" fill="#0b72b5" fill-opacity="0.55"/>
<circle cx="518.2" cy="167.0" r="2.25" fill="#0b72b5" fill-opacity="0.55"/>
<circle cx="448.8" cy="171.7" r="2.25" fill="#0b72b5" fill-opacity="0.55"/>
<circle cx="451.7" cy="174.0" r="2.25" fill="#0b72b5" fill-opacity="0.55"/>
<circle cx="456.4" cy="171.7" r="2.25" fill="#0b72b5" fill-opacity="0.55"/>
<circle cx="458.7" cy="172.8" r="2.25" fill="#0b72b5" fill-opacity="0.55"/>
<circle cx="461.6" cy="171.1" r="2.25" fill="#0b72b5" fill-opacity="0.55"/>
<circle cx="463.9" cy="172.8" r="2.25" fill="#0b72b5" fill-opacity="0.55"/>
<circle cx="466.3" cy="171.1" r="2.25" fill="#0b72b5" fill-opacity="0.55"/>
<circle cx="469.2" cy="171.7" r="2.25" fill="#0b72b5" fill-opacity="0.55"/>
<circle cx="472.1" cy="172.8" r="2.25" fill="#0b72b5" fill-opacity="0.55"/>
<circle cx="475.0" cy="174.0" r="2.25" fill="#0b72b5" fill-opacity="0.55"/>
<circle cx="478.0" cy="172.3" r="2.25" fill="#0b72b5" fill-opacity="0.55"/>
<circle cx="481.5" cy="172.3" r="2.25" fill="#0b72b5" fill-opacity="0.55"/>
<circle cx="483.8" cy="174.0" r="2.25" fill="#0b72b5" fill-opacity="0.55"/>
<circle cx="486.7" cy="175.2" r="2.25" fill="#0b72b5" fill-opacity="0.55"/>
<circle cx="489.6" cy="174.0" r="2.25" fill="#0b72b5" fill-opacity="0.55"/>
<circle cx="493.1" cy="174.0" r="2.25" fill="#0b72b5" fill-opacity="0.55"/>
<circle cx="455.8" cy="175.2" r="2.25" fill="#0b72b5" fill-opacity="0.55"/>
<circle cx="459.3" cy="175.8" r="2.25" fill="#0b72b5" fill-opacity="0.55"/>
<circle cx="462.8" cy="174.6" r="2.25" fill="#0b72b5" fill-opacity="0.55"/>
<circle cx="465.1" cy="175.8" r="2.25" fill="#0b72b5" fill-opacity="0.55"/>
<circle cx="468.0" cy="175.2" r="2.25" fill="#0b72b5" fill-opacity="0.55"/>
<circle cx="471.0" cy="174.6" r="2.25" fill="#0b72b5" fill-opacity="0.55"/>
<circle cx="445.3" cy="178.7" r="2.25" fill="#0b72b5" fill-opacity="0.55"/>
<circle cx="448.8" cy="181.6" r="2.25" fill="#0b72b5" fill-opacity="0.55"/>
<circle cx="452.3" cy="181.6" r="2.25" fill="#0b72b5" fill-opacity="0.55"/>
<circle cx="457.5" cy="181.0" r="2.25" fill="#0b72b5" fill-opacity="0.55"/>
<circle cx="461.6" cy="179.9" r="2.25" fill="#0b72b5" fill-opacity="0.55"/>
<circle cx="463.4" cy="180.4" r="2.25" fill="#0b72b5" fill-opacity="0.55"/>
<circle cx="464.5" cy="181.6" r="2.25" fill="#0b72b5" fill-opacity="0.55"/>
<circle cx="468.6" cy="180.4" r="2.25" fill="#0b72b5" fill-opacity="0.55"/>
<circle cx="469.2" cy="182.2" r="2.25" fill="#0b72b5" fill-opacity="0.55"/>
<circle cx="473.9" cy="181.6" r="2.25" fill="#0b72b5" fill-opacity="0.55"/>
<circle cx="477.4" cy="182.8" r="2.25" fill="#0b72b5" fill-opacity="0.55"/>
<circle cx="478.5" cy="186.6" r="2.25" fill="#0b72b5" fill-opacity="0.55"/>
<circle cx="457.5" cy="186.9" r="2.25" fill="#0b72b5" fill-opacity="0.55"/>
<circle cx="468.0" cy="188.0" r="2.25" fill="#0b72b5" fill-opacity="0.55"/>
<circle cx="469.8" cy="186.9" r="2.25" fill="#0b72b5" fill-opacity="0.55"/>
<circle cx="445.3" cy="188.6" r="2.25" fill="#0b72b5" fill-opacity="0.55"/>
<circle cx="447.0" cy="189.0" r="2.25" fill="#0b72b5" fill-opacity="0.55"/>
<circle cx="448.8" cy="191.0" r="2.25" fill="#0b72b5" fill-opacity="0.55"/>
<circle cx="451.1" cy="191.5" r="2.25" fill="#0b72b5" fill-opacity="0.55"/>
<circle cx="463.4" cy="191.8" r="2.25" fill="#0b72b5" fill-opacity="0.55"/>
<circle cx="483.8" cy="189.2" r="2.25" fill="#0b72b5" fill-opacity="0.55"/>
<circle cx="486.1" cy="192.7" r="2.25" fill="#0b72b5" fill-opacity="0.55"/>
<circle cx="516.5" cy="191.8" r="2.25" fill="#0b72b5" fill-opacity="0.55"/>
<circle cx="466.0" cy="179.8" r="2.25" fill="#0b72b5" fill-opacity="0.55"/>
<circle cx="467.2" cy="189.4" r="2.25" fill="#0b72b5" fill-opacity="0.55"/>
<circle cx="453.2" cy="195.2" r="2.25" fill="#0b72b5" fill-opacity="0.55"/>
<circle cx="459.9" cy="195.2" r="2.25" fill="#0b72b5" fill-opacity="0.55"/>
<circle cx="468.9" cy="194.8" r="2.25" fill="#0b72b5" fill-opacity="0.55"/>
<circle cx="470.4" cy="196.2" r="2.25" fill="#0b72b5" fill-opacity="0.55"/>
<circle cx="463.4" cy="199.9" r="2.25" fill="#0b72b5" fill-opacity="0.55"/>
<circle cx="470.4" cy="201.1" r="2.25" fill="#0b72b5" fill-opacity="0.55"/>
<circle cx="488.6" cy="201.1" r="2.25" fill="#0b72b5" fill-opacity="0.55"/>
<circle cx="444.4" cy="200.6" r="2.25" fill="#0b72b5" fill-opacity="0.55"/>
<circle cx="449.7" cy="201.1" r="2.25" fill="#0b72b5" fill-opacity="0.55"/>
<circle cx="450.0" cy="203.5" r="2.25" fill="#0b72b5" fill-opacity="0.55"/>
<circle cx="440.0" cy="202.8" r="2.25" fill="#0b72b5" fill-opacity="0.55"/>
<circle cx="443.4" cy="205.7" r="2.25" fill="#0b72b5" fill-opacity="0.55"/>
<circle cx="442.7" cy="207.2" r="2.25" fill="#0b72b5" fill-opacity="0.55"/>
<circle cx="439.4" cy="209.4" r="2.25" fill="#0b72b5" fill-opacity="0.55"/>
<circle cx="441.9" cy="208.9" r="2.25" fill="#0b72b5" fill-opacity="0.55"/>
<circle cx="431.7" cy="213.3" r="2.25" fill="#0b72b5" fill-opacity="0.55"/>
<circle cx="434.6" cy="213.8" r="2.25" fill="#0b72b5" fill-opacity="0.55"/>
<circle cx="435.1" cy="216.7" r="2.25" fill="#0b72b5" fill-opacity="0.55"/>
<circle cx="449.2" cy="189.4" r="2.25" fill="#0b72b5" fill-opacity="0.55"/>
<circle cx="447.8" cy="192.3" r="2.25" fill="#0b72b5" fill-opacity="0.55"/>
<circle cx="524.3" cy="91.4" r="2.25" fill="#0b72b5" fill-opacity="0.55"/>
<circle cx="548.1" cy="91.4" r="2.25" fill="#0b72b5" fill-opacity="0.55"/>
<circle cx="563.3" cy="91.4" r="2.25" fill="#0b72b5" fill-opacity="0.55"/>
<circle cx="570.6" cy="100.8" r="2.25" fill="#0b72b5" fill-opacity="0.55"/>
<circle cx="532.6" cy="107.1" r="2.25" fill="#0b72b5" fill-opacity="0.55"/>
<circle cx="531.6" cy="108.9" r="2.25" fill="#0b72b5" fill-opacity="0.55"/>
<circle cx="563.3" cy="107.4" r="2.25" fill="#0b72b5" fill-opacity="0.55"/>
<circle cx="518.5" cy="108.9" r="2.25" fill="#0b72b5" fill-opacity="0.55"/>
<circle cx="524.3" cy="108.9" r="2.25" fill="#0b72b5" fill-opacity="0.55"/>
<circle cx="526.5" cy="109.6" r="2.25" fill="#0b72b5" fill-opacity="0.55"/>
<circle cx="519.2" cy="110.8" r="2.25" fill="#0b72b5" fill-opacity="0.55"/>
<circle cx="525.0" cy="110.1" r="2.25" fill="#0b72b5" fill-opacity="0.55"/>
<circle cx="533.8" cy="106.5" r="2.25" fill="#0b72b5" fill-opacity="0.55"/>
<circle cx="517.0" cy="116.7" r="2.25" fill="#0b72b5" fill-opacity="0.55"/>
<circle cx="517.0" cy="118.4" r="2.25" fill="#0b72b5" fill-opacity="0.55"/>
<circle cx="519.2" cy="118.9" r="2.25" fill="#0b72b5" fill-opacity="0.55"/>
<circle cx="522.8" cy="119.6" r="2.25" fill="#0b72b5" fill-opacity="0.55"/>
<circle cx="523.9" cy="115.2" r="2.25" fill="#0b72b5" fill-opacity="0.55"/>
<circle cx="527.2" cy="118.1" r="2.25" fill="#0b72b5" fill-opacity="0.55"/>
<circle cx="528.2" cy="119.6" r="2.25" fill="#0b72b5" fill-opacity="0.55"/>
<circle cx="532.3" cy="116.4" r="2.25" fill="#0b72b5" fill-opacity="0.55"/>
<circle cx="535.3" cy="114.9" r="2.25" fill="#0b72b5" fill-opacity="0.55"/>
<circle cx="546.9" cy="116.0" r="2.25" fill="#0b72b5" fill-opacity="0.55"/>
<circle cx="548.1" cy="118.9" r="2.25" fill="#0b72b5" fill-opacity="0.55"/>
<circle cx="513.4" cy="124.0" r="2.25" fill="#0b72b5" fill-opacity="0.55"/>
<circle cx="514.8" cy="124.7" r="2.25" fill="#0b72b5" fill-opacity="0.55"/>
<circle cx="516.0" cy="126.2" r="2.25" fill="#0b72b5" fill-opacity="0.55"/>
<circle cx="519.9" cy="124.0" r="2.25" fill="#0b72b5" fill-opacity="0.55"/>
<circle cx="523.6" cy="124.0" r="2.25" fill="#0b72b5" fill-opacity="0.55"/>
<circle cx="511.9" cy="131.0" r="2.25" fill="#0b72b5" fill-opacity="0.55"/>
<circle cx="513.4" cy="128.4" r="2.25" fill="#0b72b5" fill-opacity="0.55"/>
<circle cx="518.5" cy="131.0" r="2.25" fill="#0b72b5" fill-opacity="0.55"/>
<circle cx="520.7" cy="131.0" r="2.25" fill="#0b72b5" fill-opacity="0.55"/>
<circle cx="523.9" cy="130.1" r="2.25" fill="#0b72b5" fill-opacity="0.55"/>
<circle cx="511.6" cy="136.4" r="2.25" fill="#0b72b5" fill-opacity="0.55"/>
<circle cx="517.7" cy="134.5" r="2.25" fill="#0b72b5" fill-opacity="0.55"/>
<circle cx="524.3" cy="140.3" r="2.25" fill="#0b72b5" fill-opacity="0.55"/>
<circle cx="528.0" cy="140.8" r="2.25" fill="#0b72b5" fill-opacity="0.55"/>
<circle cx="514.1" cy="143.7" r="2.25" fill="#0b72b5" fill-opacity="0.55"/>
<circle cx="515.5" cy="145.1" r="2.25" fill="#0b72b5" fill-opacity="0.55"/>
<circle cx="517.0" cy="146.6" r="2.25" fill="#0b72b5" fill-opacity="0.55"/>
<circle cx="521.4" cy="143.7" r="2.25" fill="#0b72b5" fill-opacity="0.55"/>
<circle cx="523.6" cy="145.1" r="2.25" fill="#0b72b5" fill-opacity="0.55"/>
<circle cx="498.0" cy="148.6" r="2.25" fill="#0b72b5" fill-opacity="0.55"/>
<circle cx="501.7" cy="149.3" r="2.25" fill="#0b72b5" fill-opacity="0.55"/>
<circle cx="513.4" cy="145.6" r="2.25" fill="#0b72b5" fill-opacity="0.55"/>
<circle cx="517.0" cy="144.9" r="2.25" fill="#0b72b5" fill-opacity="0.55"/>
<circle cx="518.5" cy="146.4" r="2.25" fill="#0b72b5" fill-opacity="0.55"/>
<circle cx="520.7" cy="146.4" r="2.25" fill="#0b72b5" fill-opacity="0.55"/>
<circle cx="525.0" cy="145.6" r="2.25" fill="#0b72b5" fill-opacity="0.55"/>
<circle cx="519.2" cy="156.6" r="2.25" fill="#0b72b5" fill-opacity="0.55"/>
<circle cx="517.4" cy="158.8" r="2.25" fill="#0b72b5" fill-opacity="0.55"/>
<circle cx="495.1" cy="158.1" r="2.25" fill="#0b72b5" fill-opacity="0.55"/>
<circle cx="490.7" cy="165.4" r="2.25" fill="#0b72b5" fill-opacity="0.55"/>
<circle cx="490.7" cy="172.7" r="2.25" fill="#0b72b5" fill-opacity="0.55"/>
<circle cx="453.4" cy="195.4" r="2.25" fill="#0b72b5" fill-opacity="0.55"/>
<circle cx="476.3" cy="157.0" r="2.25" fill="#0b72b5" fill-opacity="0.55"/>
<circle cx="478.6" cy="157.6" r="2.25" fill="#0b72b5" fill-opacity="0.55"/>
<circle cx="485.3" cy="156.9" r="2.25" fill="#0b72b5" fill-opacity="0.55"/>
<circle cx="499.5" cy="124.0" r="2.25" fill="#0b72b5" fill-opacity="0.55"/>
<circle cx="480.1" cy="132.9" r="2.25" fill="#0b72b5" fill-opacity="0.55"/>
<circle cx="498.3" cy="119.2" r="2.25" fill="#0b72b5" fill-opacity="0.55"/>
<circle cx="464.0" cy="180.3" r="2.25" fill="#0b72b5" fill-opacity="0.55"/>
<circle cx="466.3" cy="180.1" r="2.25" fill="#0b72b5" fill-opacity="0.55"/>
<circle cx="468.5" cy="181.1" r="2.25" fill="#0b72b5" fill-opacity="0.55"/>
<circle cx="462.9" cy="175.0" r="2.25" fill="#0b72b5" fill-opacity="0.55"/>
<circle cx="465.4" cy="175.6" r="2.25" fill="#0b72b5" fill-opacity="0.55"/>
<circle cx="514.0" cy="124.3" r="2.25" fill="#0b72b5" fill-opacity="0.55"/>
<circle cx="515.4" cy="125.2" r="2.25" fill="#0b72b5" fill-opacity="0.55"/>
<circle cx="498.4" cy="124.4" r="2.25" fill="#0b72b5" fill-opacity="0.55"/>
<circle cx="519.0" cy="109.5" r="2.25" fill="#0b72b5" fill-opacity="0.55"/>
<circle cx="524.6" cy="109.3" r="2.25" fill="#0b72b5" fill-opacity="0.55"/>
<circle cx="515.2" cy="144.2" r="2.25" fill="#0b72b5" fill-opacity="0.55"/>
<circle cx="516.5" cy="145.6" r="2.25" fill="#0b72b5" fill-opacity="0.55"/>
<circle cx="479.6" cy="150.8" r="2.25" fill="#0b72b5" fill-opacity="0.55"/>
<circle cx="467.7" cy="172.1" r="2.25" fill="#0b72b5" fill-opacity="0.55"/>
<circle cx="460.0" cy="172.6" r="2.25" fill="#0b72b5" fill-opacity="0.55"/>
<circle cx="458.5" cy="172.5" r="2.25" fill="#0b72b5" fill-opacity="0.55"/>
<circle cx="462.0" cy="173.5" r="2.25" fill="#0b72b5" fill-opacity="0.55"/>
<circle cx="466.0" cy="172.8" r="2.25" fill="#0b72b5" fill-opacity="0.55"/>
<circle cx="469.5" cy="174.2" r="2.25" fill="#0b72b5" fill-opacity="0.55"/>
<circle cx="461.5" cy="176.0" r="2.25" fill="#0b72b5" fill-opacity="0.55"/>
<circle cx="464.8" cy="177.2" r="2.25" fill="#0b72b5" fill-opacity="0.55"/>
<circle cx="461.5" cy="180.5" r="2.25" fill="#0b72b5" fill-opacity="0.55"/>
<circle cx="465.0" cy="181.0" r="2.25" fill="#0b72b5" fill-opacity="0.55"/>
<circle cx="488.0" cy="165.5" r="2.25" fill="#0b72b5" fill-opacity="0.55"/>
<circle cx="499.2" cy="166.2" r="2.25" fill="#0b72b5" fill-opacity="0.55"/>
<circle cx="475.5" cy="162.5" r="2.25" fill="#0b72b5" fill-opacity="0.55"/>
<circle cx="452.0" cy="174.5" r="2.25" fill="#0b72b5" fill-opacity="0.55"/>
<circle cx="455.5" cy="172.0" r="2.25" fill="#0b72b5" fill-opacity="0.55"/>
</g>
<rect x="415.5" y="70.5" width="154.00" height="164.00" fill="none" stroke="#575757" stroke-width="1.1"/>
<text transform="translate(422.80,242.8) scale(1,1.1)" font-size="8" text-anchor="middle" fill="#333">0</text>
<text transform="translate(412.80,230.15) scale(1,1.1)" font-size="8" text-anchor="end" fill="#333">0</text>
<text transform="translate(452.18,242.8) scale(1,1.1)" font-size="8" text-anchor="middle" fill="#333">20</text>
<text transform="translate(412.80,198.93) scale(1,1.1)" font-size="8" text-anchor="end" fill="#333">20</text>
<text transform="translate(481.56,242.8) scale(1,1.1)" font-size="8" text-anchor="middle" fill="#333">40</text>
<text transform="translate(412.80,167.71) scale(1,1.1)" font-size="8" text-anchor="end" fill="#333">40</text>
<text transform="translate(510.94,242.8) scale(1,1.1)" font-size="8" text-anchor="middle" fill="#333">60</text>
<text transform="translate(412.80,136.49) scale(1,1.1)" font-size="8" text-anchor="end" fill="#333">60</text>
<text transform="translate(540.32,242.8) scale(1,1.1)" font-size="8" text-anchor="middle" fill="#333">80</text>
<text transform="translate(412.80,105.27) scale(1,1.1)" font-size="8" text-anchor="end" fill="#333">80</text>
<text transform="translate(569.70,242.8) scale(1,1.1)" font-size="8" text-anchor="middle" fill="#333">100</text>
<text transform="translate(412.80,74.05) scale(1,1.1)" font-size="8" text-anchor="end" fill="#333">100</text>
<text transform="translate(492.50,253.8) scale(1,1.1)" font-size="10.3" text-anchor="middle" fill="#1a1a1a">VAF (normalized %)</text>
<text transform="translate(395.30,152.50) rotate(-90) scale(1,1.04)" font-size="10.3" text-anchor="middle" fill="#1a1a1a">VAF (normalized %)</text>
<text transform="translate(488.30,86.6) scale(1,1.1)" font-size="8.5" fill="#1a1a1a">r=0.73</text>
<rect x="42.8" y="265.4" width="96" height="24.2" rx="1.5" fill="#fff" stroke="#dcdcdc" stroke-width="0.8"/>
<circle cx="53.5" cy="271.5" r="2.6" fill="#0b72b5" fill-opacity="0.55"/>
<circle cx="53.5" cy="282.5" r="2.6" fill="#000" fill-opacity="0.47"/>
<text transform="translate(67.5,274.3) scale(1,1.1)" font-size="7.8" fill="#1a1a1a">Mutation shared</text>
<text transform="translate(67.5,285.2) scale(1,1.1)" font-size="7.8" fill="#1a1a1a">Mutation not shared</text>
<text transform="translate(274.4,9.6) scale(1,1.1)" font-size="7.8" text-anchor="middle" fill="#1a1a1a">Archival tissue</text>
<text transform="translate(254.5,18.0) scale(1,1.1)" font-size="7.8" text-anchor="middle" fill="#1a1a1a">1</text>
<text transform="translate(267.8,18.0) scale(1,1.1)" font-size="7.8" text-anchor="middle" fill="#1a1a1a">2</text>
<text transform="translate(281.1,18.0) scale(1,1.1)" font-size="7.8" text-anchor="middle" fill="#1a1a1a">3</text>
<text transform="translate(294.4,18.0) scale(1,1.1)" font-size="7.8" text-anchor="middle" fill="#1a1a1a">4</text>
<text transform="translate(330.3,9.6) scale(1,1.1)" font-size="7.8" text-anchor="middle" fill="#1a1a1a">mUC ctDNA</text>
<text transform="translate(323.8,18.0) scale(1,1.1)" font-size="7.8" text-anchor="middle" fill="#1a1a1a">1</text>
<text transform="translate(336.9,18.0) scale(1,1.1)" font-size="7.8" text-anchor="middle" fill="#1a1a1a">2</text>
<rect x="246.9" y="22.30" width="1.0" height="6.00" fill="#555"/>
<rect x="247.90" y="22.30" width="13.65" height="6.00" fill="#0b72b1"/>
<rect x="261.20" y="22.30" width="13.65" height="6.00" fill="#0b72b1"/>
<rect x="274.50" y="22.30" width="13.65" height="6.00" fill="#0b72b1"/>
<rect x="287.80" y="22.30" width="13.45" height="6.00" fill="#0b72b1"/>
<rect x="317.20" y="22.30" width="13.35" height="6.00" fill="#0b72b1"/>
<rect x="330.20" y="22.30" width="13.35" height="6.00" fill="#0b72b1"/>
<rect x="246.9" y="30.74" width="1.0" height="8.00" fill="#555"/>
<rect x="247.90" y="30.74" width="13.65" height="4.00" fill="#0b72b1"/>
<rect x="247.90" y="34.74" width="13.65" height="4.00" fill="#d3d3d3"/>
<rect x="261.20" y="30.74" width="13.65" height="4.00" fill="#0b72b1"/>
<rect x="261.20" y="34.74" width="13.65" height="4.00" fill="#d3d3d3"/>
<rect x="274.50" y="30.74" width="13.65" height="8.00" fill="#0b72b1"/>
<rect x="287.80" y="30.74" width="13.45" height="8.00" fill="#0b72b1"/>
<rect x="317.20" y="30.74" width="13.35" height="8.00" fill="#0b72b1"/>
<rect x="330.20" y="30.74" width="13.35" height="8.00" fill="#0b72b1"/>
<rect x="246.9" y="41.18" width="1.0" height="8.00" fill="#555"/>
<rect x="247.90" y="41.18" width="13.65" height="2.00" fill="#0b72b1"/>
<rect x="247.90" y="43.18" width="13.65" height="6.00" fill="#d3d3d3"/>
<rect x="261.20" y="41.18" width="13.65" height="4.00" fill="#0b72b1"/>
<rect x="261.20" y="45.18" width="13.65" height="4.00" fill="#d3d3d3"/>
<rect x="274.50" y="41.18" width="13.65" height="2.00" fill="#0b72b1"/>
<rect x="274.50" y="43.18" width="13.65" height="6.00" fill="#d3d3d3"/>
<rect x="287.80" y="41.18" width="13.45" height="2.00" fill="#0b72b1"/>
<rect x="287.80" y="43.18" width="13.45" height="2.00" fill="#d3d3d3"/>
<rect x="287.80" y="45.18" width="13.45" height="4.00" fill="#0b72b1"/>
<rect x="317.20" y="41.18" width="13.35" height="2.00" fill="#0b72b1"/>
<rect x="317.20" y="43.18" width="13.35" height="6.00" fill="#d3d3d3"/>
<rect x="246.9" y="51.62" width="1.0" height="48.00" fill="#555"/>
<rect x="247.90" y="51.62" width="13.65" height="34.00" fill="#0b72b1"/>
<rect x="247.90" y="85.62" width="13.65" height="14.00" fill="#d3d3d3"/>
<rect x="261.20" y="51.62" width="13.65" height="2.00" fill="#0b72b1"/>
<rect x="261.20" y="53.62" width="13.65" height="32.00" fill="#d3d3d3"/>
<rect x="261.20" y="85.62" width="13.65" height="12.00" fill="#0b72b1"/>
<rect x="261.20" y="97.62" width="13.65" height="2.00" fill="#d3d3d3"/>
<rect x="274.50" y="51.62" width="13.65" height="2.00" fill="#0b72b1"/>
<rect x="274.50" y="53.62" width="13.65" height="32.00" fill="#d3d3d3"/>
<rect x="274.50" y="85.62" width="13.65" height="10.00" fill="#0b72b1"/>
<rect x="274.50" y="95.62" width="13.65" height="2.00" fill="#d3d3d3"/>
<rect x="274.50" y="97.62" width="13.65" height="2.00" fill="#0b72b1"/>
<rect x="317.20" y="51.62" width="13.35" height="2.00" fill="#0b72b1"/>
<rect x="317.20" y="53.62" width="13.35" height="32.00" fill="#d3d3d3"/>
<rect x="317.20" y="85.62" width="13.35" height="10.00" fill="#0b72b1"/>
<rect x="317.20" y="95.62" width="13.35" height="4.00" fill="#d3d3d3"/>
<rect x="246.9" y="102.06" width="1.0" height="8.00" fill="#555"/>
<rect x="247.90" y="102.06" width="13.65" height="4.00" fill="#0b72b1"/>
<rect x="247.90" y="106.06" width="13.65" height="4.00" fill="#d3d3d3"/>
<rect x="261.20" y="102.06" width="13.65" height="2.00" fill="#0b72b1"/>
<rect x="261.20" y="104.06" width="13.65" height="2.00" fill="#d3d3d3"/>
<rect x="261.20" y="106.06" width="13.65" height="2.00" fill="#0b72b1"/>
<rect x="261.20" y="108.06" width="13.65" height="2.00" fill="#d3d3d3"/>
<rect x="274.50" y="102.06" width="13.65" height="2.00" fill="#0b72b1"/>
<rect x="274.50" y="104.06" width="13.65" height="4.00" fill="#d3d3d3"/>
<rect x="274.50" y="108.06" width="13.65" height="2.00" fill="#0b72b1"/>
<rect x="317.20" y="102.06" width="13.35" height="2.00" fill="#0b72b1"/>
<rect x="317.20" y="104.06" width="13.35" height="6.00" fill="#d3d3d3"/>
<rect x="246.9" y="112.50" width="1.0" height="8.00" fill="#555"/>
<rect x="247.90" y="112.50" width="13.65" height="2.00" fill="#0b72b1"/>
<rect x="247.90" y="114.50" width="13.65" height="6.00" fill="#d3d3d3"/>
<rect x="261.20" y="112.50" width="13.65" height="2.00" fill="#0b72b1"/>
<rect x="261.20" y="114.50" width="13.65" height="6.00" fill="#d3d3d3"/>
<rect x="274.50" y="112.50" width="13.65" height="8.00" fill="#0b72b1"/>
<rect x="317.20" y="112.50" width="13.35" height="8.00" fill="#0b72b1"/>
<rect x="246.9" y="122.94" width="1.0" height="12.00" fill="#555"/>
<rect x="247.90" y="122.94" width="13.65" height="2.00" fill="#0b72b1"/>
<rect x="247.90" y="124.94" width="13.65" height="10.00" fill="#d3d3d3"/>
<rect x="261.20" y="122.94" width="13.65" height="10.00" fill="#0b72b1"/>
<rect x="261.20" y="132.94" width="13.65" height="2.00" fill="#d3d3d3"/>
<rect x="274.50" y="122.94" width="13.65" height="4.00" fill="#0b72b1"/>
<rect x="274.50" y="126.94" width="13.65" height="6.00" fill="#d3d3d3"/>
<rect x="274.50" y="132.94" width="13.65" height="2.00" fill="#0b72b1"/>
<rect x="317.20" y="122.94" width="13.35" height="12.00" fill="#0b72b1"/>
<rect x="246.9" y="137.38" width="1.0" height="10.00" fill="#555"/>
<rect x="247.90" y="137.38" width="13.65" height="10.00" fill="#0b72b1"/>
<rect x="261.20" y="137.38" width="13.65" height="10.00" fill="#0b72b1"/>
<rect x="274.50" y="137.38" width="13.65" height="10.00" fill="#0b72b1"/>
<rect x="246.9" y="149.82" width="1.0" height="12.00" fill="#555"/>
<rect x="247.90" y="149.82" width="13.65" height="8.00" fill="#0b72b1"/>
<rect x="247.90" y="157.82" width="13.65" height="4.00" fill="#d3d3d3"/>
<rect x="261.20" y="149.82" width="13.65" height="12.00" fill="#d3d3d3"/>
<rect x="274.50" y="149.82" width="13.65" height="12.00" fill="#0b72b1"/>
<rect x="246.9" y="164.26" width="1.0" height="14.00" fill="#555"/>
<rect x="247.90" y="164.26" width="13.65" height="14.00" fill="#0b72b1"/>
<rect x="261.20" y="164.26" width="13.65" height="14.00" fill="#0b72b1"/>
<rect x="317.20" y="164.26" width="13.35" height="14.00" fill="#0b72b1"/>
<rect x="246.9" y="180.70" width="1.0" height="8.00" fill="#555"/>
<rect x="247.90" y="180.70" width="13.65" height="8.00" fill="#0b72b1"/>
<rect x="261.20" y="180.70" width="13.65" height="8.00" fill="#0b72b1"/>
<rect x="317.20" y="180.70" width="13.35" height="8.00" fill="#0b72b1"/>
<rect x="246.9" y="191.14" width="1.0" height="20.00" fill="#555"/>
<rect x="247.90" y="191.14" width="13.65" height="20.00" fill="#0b72b1"/>
<rect x="261.20" y="191.14" width="13.65" height="20.00" fill="#0b72b1"/>
<rect x="317.20" y="191.14" width="13.35" height="20.00" fill="#0b72b1"/>
<rect x="246.9" y="213.58" width="1.0" height="14.00" fill="#555"/>
<rect x="247.90" y="213.58" width="13.65" height="14.00" fill="#0b72b1"/>
<rect x="261.20" y="213.58" width="13.65" height="4.00" fill="#0b72b1"/>
<rect x="261.20" y="217.58" width="13.65" height="10.00" fill="#d3d3d3"/>
<rect x="317.20" y="213.58" width="13.35" height="2.00" fill="#d3d3d3"/>
<rect x="317.20" y="215.58" width="13.35" height="2.00" fill="#0b72b1"/>
<rect x="317.20" y="217.58" width="13.35" height="10.00" fill="#d3d3d3"/>
<rect x="246.9" y="230.02" width="1.0" height="10.00" fill="#555"/>
<rect x="247.90" y="230.02" width="13.65" height="8.00" fill="#0b72b1"/>
<rect x="247.90" y="238.02" width="13.65" height="2.00" fill="#d3d3d3"/>
<rect x="261.20" y="230.02" width="13.65" height="6.00" fill="#0b72b1"/>
<rect x="261.20" y="236.02" width="13.65" height="2.00" fill="#d3d3d3"/>
<rect x="261.20" y="238.02" width="13.65" height="2.00" fill="#0b72b1"/>
<rect x="246.9" y="242.46" width="1.0" height="12.00" fill="#555"/>
<rect x="247.90" y="242.46" width="13.65" height="12.00" fill="#0b72b1"/>
<rect x="261.20" y="242.46" width="13.65" height="8.00" fill="#0b72b1"/>
<rect x="261.20" y="250.46" width="13.65" height="4.00" fill="#d3d3d3"/>
<line x1="247.90" y1="24.30" x2="261.20" y2="24.30" stroke="#fff" stroke-opacity="0.2" stroke-width="0.5"/>
<line x1="261.20" y1="24.30" x2="274.50" y2="24.30" stroke="#fff" stroke-opacity="0.2" stroke-width="0.5"/>
<line x1="274.50" y1="24.30" x2="287.80" y2="24.30" stroke="#fff" stroke-opacity="0.2" stroke-width="0.5"/>
<line x1="287.80" y1="24.30" x2="300.90" y2="24.30" stroke="#fff" stroke-opacity="0.2" stroke-width="0.5"/>
<line x1="317.20" y1="24.30" x2="330.20" y2="24.30" stroke="#fff" stroke-opacity="0.2" stroke-width="0.5"/>
<line x1="330.20" y1="24.30" x2="343.20" y2="24.30" stroke="#fff" stroke-opacity="0.2" stroke-width="0.5"/>
<line x1="247.90" y1="26.30" x2="261.20" y2="26.30" stroke="#fff" stroke-opacity="0.2" stroke-width="0.5"/>
<line x1="261.20" y1="26.30" x2="274.50" y2="26.30" stroke="#fff" stroke-opacity="0.2" stroke-width="0.5"/>
<line x1="274.50" y1="26.30" x2="287.80" y2="26.30" stroke="#fff" stroke-opacity="0.2" stroke-width="0.5"/>
<line x1="287.80" y1="26.30" x2="300.90" y2="26.30" stroke="#fff" stroke-opacity="0.2" stroke-width="0.5"/>
<line x1="317.20" y1="26.30" x2="330.20" y2="26.30" stroke="#fff" stroke-opacity="0.2" stroke-width="0.5"/>
<line x1="330.20" y1="26.30" x2="343.20" y2="26.30" stroke="#fff" stroke-opacity="0.2" stroke-width="0.5"/>
<line x1="261.20" y1="22.30" x2="261.20" y2="28.30" stroke="#fff" stroke-opacity="0.22" stroke-width="0.5"/>
<line x1="274.50" y1="22.30" x2="274.50" y2="28.30" stroke="#fff" stroke-opacity="0.22" stroke-width="0.5"/>
<line x1="287.80" y1="22.30" x2="287.80" y2="28.30" stroke="#fff" stroke-opacity="0.22" stroke-width="0.5"/>
<line x1="317.20" y1="22.30" x2="317.20" y2="28.30" stroke="#fff" stroke-opacity="0.22" stroke-width="0.5"/>
<line x1="330.20" y1="22.30" x2="330.20" y2="28.30" stroke="#fff" stroke-opacity="0.22" stroke-width="0.5"/>
<line x1="247.90" y1="32.74" x2="261.20" y2="32.74" stroke="#fff" stroke-opacity="0.2" stroke-width="0.5"/>
<line x1="261.20" y1="32.74" x2="274.50" y2="32.74" stroke="#fff" stroke-opacity="0.2" stroke-width="0.5"/>
<line x1="274.50" y1="32.74" x2="287.80" y2="32.74" stroke="#fff" stroke-opacity="0.2" stroke-width="0.5"/>
<line x1="287.80" y1="32.74" x2="300.90" y2="32.74" stroke="#fff" stroke-opacity="0.2" stroke-width="0.5"/>
<line x1="317.20" y1="32.74" x2="330.20" y2="32.74" stroke="#fff" stroke-opacity="0.2" stroke-width="0.5"/>
<line x1="330.20" y1="32.74" x2="343.20" y2="32.74" stroke="#fff" stroke-opacity="0.2" stroke-width="0.5"/>
<line x1="247.90" y1="34.74" x2="261.20" y2="34.74" stroke="#fff" stroke-opacity="0.2" stroke-width="0.5"/>
<line x1="261.20" y1="34.74" x2="274.50" y2="34.74" stroke="#fff" stroke-opacity="0.2" stroke-width="0.5"/>
<line x1="274.50" y1="34.74" x2="287.80" y2="34.74" stroke="#fff" stroke-opacity="0.2" stroke-width="0.5"/>
<line x1="287.80" y1="34.74" x2="300.90" y2="34.74" stroke="#fff" stroke-opacity="0.2" stroke-width="0.5"/>
<line x1="317.20" y1="34.74" x2="330.20" y2="34.74" stroke="#fff" stroke-opacity="0.2" stroke-width="0.5"/>
<line x1="330.20" y1="34.74" x2="343.20" y2="34.74" stroke="#fff" stroke-opacity="0.2" stroke-width="0.5"/>
<line x1="247.90" y1="36.74" x2="261.20" y2="36.74" stroke="#fff" stroke-opacity="0.2" stroke-width="0.5"/>
<line x1="261.20" y1="36.74" x2="274.50" y2="36.74" stroke="#fff" stroke-opacity="0.2" stroke-width="0.5"/>
<line x1="274.50" y1="36.74" x2="287.80" y2="36.74" stroke="#fff" stroke-opacity="0.2" stroke-width="0.5"/>
<line x1="287.80" y1="36.74" x2="300.90" y2="36.74" stroke="#fff" stroke-opacity="0.2" stroke-width="0.5"/>
<line x1="317.20" y1="36.74" x2="330.20" y2="36.74" stroke="#fff" stroke-opacity="0.2" stroke-width="0.5"/>
<line x1="330.20" y1="36.74" x2="343.20" y2="36.74" stroke="#fff" stroke-opacity="0.2" stroke-width="0.5"/>
<line x1="261.20" y1="30.74" x2="261.20" y2="38.74" stroke="#fff" stroke-opacity="0.22" stroke-width="0.5"/>
<line x1="274.50" y1="30.74" x2="274.50" y2="38.74" stroke="#fff" stroke-opacity="0.22" stroke-width="0.5"/>
<line x1="287.80" y1="30.74" x2="287.80" y2="38.74" stroke="#fff" stroke-opacity="0.22" stroke-width="0.5"/>
<line x1="317.20" y1="30.74" x2="317.20" y2="38.74" stroke="#fff" stroke-opacity="0.22" stroke-width="0.5"/>
<line x1="330.20" y1="30.74" x2="330.20" y2="38.74" stroke="#fff" stroke-opacity="0.22" stroke-width="0.5"/>
<line x1="247.90" y1="43.18" x2="261.20" y2="43.18" stroke="#fff" stroke-opacity="0.2" stroke-width="0.5"/>
<line x1="261.20" y1="43.18" x2="274.50" y2="43.18" stroke="#fff" stroke-opacity="0.2" stroke-width="0.5"/>
<line x1="274.50" y1="43.18" x2="287.80" y2="43.18" stroke="#fff" stroke-opacity="0.2" stroke-width="0.5"/>
<line x1="287.80" y1="43.18" x2="300.90" y2="43.18" stroke="#fff" stroke-opacity="0.2" stroke-width="0.5"/>
<line x1="317.20" y1="43.18" x2="330.20" y2="43.18" stroke="#fff" stroke-opacity="0.2" stroke-width="0.5"/>
<line x1="247.90" y1="45.18" x2="261.20" y2="45.18" stroke="#fff" stroke-opacity="0.2" stroke-width="0.5"/>
<line x1="261.20" y1="45.18" x2="274.50" y2="45.18" stroke="#fff" stroke-opacity="0.2" stroke-width="0.5"/>
<line x1="274.50" y1="45.18" x2="287.80" y2="45.18" stroke="#fff" stroke-opacity="0.2" stroke-width="0.5"/>
<line x1="287.80" y1="45.18" x2="300.90" y2="45.18" stroke="#fff" stroke-opacity="0.2" stroke-width="0.5"/>
<line x1="317.20" y1="45.18" x2="330.20" y2="45.18" stroke="#fff" stroke-opacity="0.2" stroke-width="0.5"/>
<line x1="247.90" y1="47.18" x2="261.20" y2="47.18" stroke="#fff" stroke-opacity="0.2" stroke-width="0.5"/>
<line x1="261.20" y1="47.18" x2="274.50" y2="47.18" stroke="#fff" stroke-opacity="0.2" stroke-width="0.5"/>
<line x1="274.50" y1="47.18" x2="287.80" y2="47.18" stroke="#fff" stroke-opacity="0.2" stroke-width="0.5"/>
<line x1="287.80" y1="47.18" x2="300.90" y2="47.18" stroke="#fff" stroke-opacity="0.2" stroke-width="0.5"/>
<line x1="317.20" y1="47.18" x2="330.20" y2="47.18" stroke="#fff" stroke-opacity="0.2" stroke-width="0.5"/>
<line x1="261.20" y1="41.18" x2="261.20" y2="49.18" stroke="#fff" stroke-opacity="0.22" stroke-width="0.5"/>
<line x1="274.50" y1="41.18" x2="274.50" y2="49.18" stroke="#fff" stroke-opacity="0.22" stroke-width="0.5"/>
<line x1="287.80" y1="41.18" x2="287.80" y2="49.18" stroke="#fff" stroke-opacity="0.22" stroke-width="0.5"/>
<line x1="317.20" y1="41.18" x2="317.20" y2="49.18" stroke="#fff" stroke-opacity="0.22" stroke-width="0.5"/>
<line x1="247.90" y1="53.62" x2="261.20" y2="53.62" stroke="#fff" stroke-opacity="0.2" stroke-width="0.5"/>
<line x1="261.20" y1="53.62" x2="274.50" y2="53.62" stroke="#fff" stroke-opacity="0.2" stroke-width="0.5"/>
<line x1="274.50" y1="53.62" x2="287.80" y2="53.62" stroke="#fff" stroke-opacity="0.2" stroke-width="0.5"/>
<line x1="317.20" y1="53.62" x2="330.20" y2="53.62" stroke="#fff" stroke-opacity="0.2" stroke-width="0.5"/>
<line x1="247.90" y1="55.62" x2="261.20" y2="55.62" stroke="#fff" stroke-opacity="0.2" stroke-width="0.5"/>
<line x1="261.20" y1="55.62" x2="274.50" y2="55.62" stroke="#fff" stroke-opacity="0.2" stroke-width="0.5"/>
<line x1="274.50" y1="55.62" x2="287.80" y2="55.62" stroke="#fff" stroke-opacity="0.2" stroke-width="0.5"/>
<line x1="317.20" y1="55.62" x2="330.20" y2="55.62" stroke="#fff" stroke-opacity="0.2" stroke-width="0.5"/>
<line x1="247.90" y1="57.62" x2="261.20" y2="57.62" stroke="#fff" stroke-opacity="0.2" stroke-width="0.5"/>
<line x1="261.20" y1="57.62" x2="274.50" y2="57.62" stroke="#fff" stroke-opacity="0.2" stroke-width="0.5"/>
<line x1="274.50" y1="57.62" x2="287.80" y2="57.62" stroke="#fff" stroke-opacity="0.2" stroke-width="0.5"/>
<line x1="317.20" y1="57.62" x2="330.20" y2="57.62" stroke="#fff" stroke-opacity="0.2" stroke-width="0.5"/>
<line x1="247.90" y1="59.62" x2="261.20" y2="59.62" stroke="#fff" stroke-opacity="0.2" stroke-width="0.5"/>
<line x1="261.20" y1="59.62" x2="274.50" y2="59.62" stroke="#fff" stroke-opacity="0.2" stroke-width="0.5"/>
<line x1="274.50" y1="59.62" x2="287.80" y2="59.62" stroke="#fff" stroke-opacity="0.2" stroke-width="0.5"/>
<line x1="317.20" y1="59.62" x2="330.20" y2="59.62" stroke="#fff" stroke-opacity="0.2" stroke-width="0.5"/>
<line x1="247.90" y1="61.62" x2="261.20" y2="61.62" stroke="#fff" stroke-opacity="0.2" stroke-width="0.5"/>
<line x1="261.20" y1="61.62" x2="274.50" y2="61.62" stroke="#fff" stroke-opacity="0.2" stroke-width="0.5"/>
<line x1="274.50" y1="61.62" x2="287.80" y2="61.62" stroke="#fff" stroke-opacity="0.2" stroke-width="0.5"/>
<line x1="317.20" y1="61.62" x2="330.20" y2="61.62" stroke="#fff" stroke-opacity="0.2" stroke-width="0.5"/>
<line x1="247.90" y1="63.62" x2="261.20" y2="63.62" stroke="#fff" stroke-opacity="0.2" stroke-width="0.5"/>
<line x1="261.20" y1="63.62" x2="274.50" y2="63.62" stroke="#fff" stroke-opacity="0.2" stroke-width="0.5"/>
<line x1="274.50" y1="63.62" x2="287.80" y2="63.62" stroke="#fff" stroke-opacity="0.2" stroke-width="0.5"/>
<line x1="317.20" y1="63.62" x2="330.20" y2="63.62" stroke="#fff" stroke-opacity="0.2" stroke-width="0.5"/>
<line x1="247.90" y1="65.62" x2="261.20" y2="65.62" stroke="#fff" stroke-opacity="0.2" stroke-width="0.5"/>
<line x1="261.20" y1="65.62" x2="274.50" y2="65.62" stroke="#fff" stroke-opacity="0.2" stroke-width="0.5"/>
<line x1="274.50" y1="65.62" x2="287.80" y2="65.62" stroke="#fff" stroke-opacity="0.2" stroke-width="0.5"/>
<line x1="317.20" y1="65.62" x2="330.20" y2="65.62" stroke="#fff" stroke-opacity="0.2" stroke-width="0.5"/>
<line x1="247.90" y1="67.62" x2="261.20" y2="67.62" stroke="#fff" stroke-opacity="0.2" stroke-width="0.5"/>
<line x1="261.20" y1="67.62" x2="274.50" y2="67.62" stroke="#fff" stroke-opacity="0.2" stroke-width="0.5"/>
<line x1="274.50" y1="67.62" x2="287.80" y2="67.62" stroke="#fff" stroke-opacity="0.2" stroke-width="0.5"/>
<line x1="317.20" y1="67.62" x2="330.20" y2="67.62" stroke="#fff" stroke-opacity="0.2" stroke-width="0.5"/>
<line x1="247.90" y1="69.62" x2="261.20" y2="69.62" stroke="#fff" stroke-opacity="0.2" stroke-width="0.5"/>
<line x1="261.20" y1="69.62" x2="274.50" y2="69.62" stroke="#fff" stroke-opacity="0.2" stroke-width="0.5"/>
<line x1="274.50" y1="69.62" x2="287.80" y2="69.62" stroke="#fff" stroke-opacity="0.2" stroke-width="0.5"/>
<line x1="317.20" y1="69.62" x2="330.20" y2="69.62" stroke="#fff" stroke-opacity="0.2" stroke-width="0.5"/>
<line x1="247.90" y1="71.62" x2="261.20" y2="71.62" stroke="#fff" stroke-opacity="0.2" stroke-width="0.5"/>
<line x1="261.20" y1="71.62" x2="274.50" y2="71.62" stroke="#fff" stroke-opacity="0.2" stroke-width="0.5"/>
<line x1="274.50" y1="71.62" x2="287.80" y2="71.62" stroke="#fff" stroke-opacity="0.2" stroke-width="0.5"/>
<line x1="317.20" y1="71.62" x2="330.20" y2="71.62" stroke="#fff" stroke-opacity="0.2" stroke-width="0.5"/>
<line x1="247.90" y1="73.62" x2="261.20" y2="73.62" stroke="#fff" stroke-opacity="0.2" stroke-width="0.5"/>
<line x1="261.20" y1="73.62" x2="274.50" y2="73.62" stroke="#fff" stroke-opacity="0.2" stroke-width="0.5"/>
<line x1="274.50" y1="73.62" x2="287.80" y2="73.62" stroke="#fff" stroke-opacity="0.2" stroke-width="0.5"/>
<line x1="317.20" y1="73.62" x2="330.20" y2="73.62" stroke="#fff" stroke-opacity="0.2" stroke-width="0.5"/>
<line x1="247.90" y1="75.62" x2="261.20" y2="75.62" stroke="#fff" stroke-opacity="0.2" stroke-width="0.5"/>
<line x1="261.20" y1="75.62" x2="274.50" y2="75.62" stroke="#fff" stroke-opacity="0.2" stroke-width="0.5"/>
<line x1="274.50" y1="75.62" x2="287.80" y2="75.62" stroke="#fff" stroke-opacity="0.2" stroke-width="0.5"/>
<line x1="317.20" y1="75.62" x2="330.20" y2="75.62" stroke="#fff" stroke-opacity="0.2" stroke-width="0.5"/>
<line x1="247.90" y1="77.62" x2="261.20" y2="77.62" stroke="#fff" stroke-opacity="0.2" stroke-width="0.5"/>
<line x1="261.20" y1="77.62" x2="274.50" y2="77.62" stroke="#fff" stroke-opacity="0.2" stroke-width="0.5"/>
<line x1="274.50" y1="77.62" x2="287.80" y2="77.62" stroke="#fff" stroke-opacity="0.2" stroke-width="0.5"/>
<line x1="317.20" y1="77.62" x2="330.20" y2="77.62" stroke="#fff" stroke-opacity="0.2" stroke-width="0.5"/>
<line x1="247.90" y1="79.62" x2="261.20" y2="79.62" stroke="#fff" stroke-opacity="0.2" stroke-width="0.5"/>
<line x1="261.20" y1="79.62" x2="274.50" y2="79.62" stroke="#fff" stroke-opacity="0.2" stroke-width="0.5"/>
<line x1="274.50" y1="79.62" x2="287.80" y2="79.62" stroke="#fff" stroke-opacity="0.2" stroke-width="0.5"/>
<line x1="317.20" y1="79.62" x2="330.20" y2="79.62" stroke="#fff" stroke-opacity="0.2" stroke-width="0.5"/>
<line x1="247.90" y1="81.62" x2="261.20" y2="81.62" stroke="#fff" stroke-opacity="0.2" stroke-width="0.5"/>
<line x1="261.20" y1="81.62" x2="274.50" y2="81.62" stroke="#fff" stroke-opacity="0.2" stroke-width="0.5"/>
<line x1="274.50" y1="81.62" x2="287.80" y2="81.62" stroke="#fff" stroke-opacity="0.2" stroke-width="0.5"/>
<line x1="317.20" y1="81.62" x2="330.20" y2="81.62" stroke="#fff" stroke-opacity="0.2" stroke-width="0.5"/>
<line x1="247.90" y1="83.62" x2="261.20" y2="83.62" stroke="#fff" stroke-opacity="0.2" stroke-width="0.5"/>
<line x1="261.20" y1="83.62" x2="274.50" y2="83.62" stroke="#fff" stroke-opacity="0.2" stroke-width="0.5"/>
<line x1="274.50" y1="83.62" x2="287.80" y2="83.62" stroke="#fff" stroke-opacity="0.2" stroke-width="0.5"/>
<line x1="317.20" y1="83.62" x2="330.20" y2="83.62" stroke="#fff" stroke-opacity="0.2" stroke-width="0.5"/>
<line x1="247.90" y1="85.62" x2="261.20" y2="85.62" stroke="#fff" stroke-opacity="0.2" stroke-width="0.5"/>
<line x1="261.20" y1="85.62" x2="274.50" y2="85.62" stroke="#fff" stroke-opacity="0.2" stroke-width="0.5"/>
<line x1="274.50" y1="85.62" x2="287.80" y2="85.62" stroke="#fff" stroke-opacity="0.2" stroke-width="0.5"/>
<line x1="317.20" y1="85.62" x2="330.20" y2="85.62" stroke="#fff" stroke-opacity="0.2" stroke-width="0.5"/>
<line x1="247.90" y1="87.62" x2="261.20" y2="87.62" stroke="#fff" stroke-opacity="0.2" stroke-width="0.5"/>
<line x1="261.20" y1="87.62" x2="274.50" y2="87.62" stroke="#fff" stroke-opacity="0.2" stroke-width="0.5"/>
<line x1="274.50" y1="87.62" x2="287.80" y2="87.62" stroke="#fff" stroke-opacity="0.2" stroke-width="0.5"/>
<line x1="317.20" y1="87.62" x2="330.20" y2="87.62" stroke="#fff" stroke-opacity="0.2" stroke-width="0.5"/>
<line x1="247.90" y1="89.62" x2="261.20" y2="89.62" stroke="#fff" stroke-opacity="0.2" stroke-width="0.5"/>
<line x1="261.20" y1="89.62" x2="274.50" y2="89.62" stroke="#fff" stroke-opacity="0.2" stroke-width="0.5"/>
<line x1="274.50" y1="89.62" x2="287.80" y2="89.62" stroke="#fff" stroke-opacity="0.2" stroke-width="0.5"/>
<line x1="317.20" y1="89.62" x2="330.20" y2="89.62" stroke="#fff" stroke-opacity="0.2" stroke-width="0.5"/>
<line x1="247.90" y1="91.62" x2="261.20" y2="91.62" stroke="#fff" stroke-opacity="0.2" stroke-width="0.5"/>
<line x1="261.20" y1="91.62" x2="274.50" y2="91.62" stroke="#fff" stroke-opacity="0.2" stroke-width="0.5"/>
<line x1="274.50" y1="91.62" x2="287.80" y2="91.62" stroke="#fff" stroke-opacity="0.2" stroke-width="0.5"/>
<line x1="317.20" y1="91.62" x2="330.20" y2="91.62" stroke="#fff" stroke-opacity="0.2" stroke-width="0.5"/>
<line x1="247.90" y1="93.62" x2="261.20" y2="93.62" stroke="#fff" stroke-opacity="0.2" stroke-width="0.5"/>
<line x1="261.20" y1="93.62" x2="274.50" y2="93.62" stroke="#fff" stroke-opacity="0.2" stroke-width="0.5"/>
<line x1="274.50" y1="93.62" x2="287.80" y2="93.62" stroke="#fff" stroke-opacity="0.2" stroke-width="0.5"/>
<line x1="317.20" y1="93.62" x2="330.20" y2="93.62" stroke="#fff" stroke-opacity="0.2" stroke-width="0.5"/>
<line x1="247.90" y1="95.62" x2="261.20" y2="95.62" stroke="#fff" stroke-opacity="0.2" stroke-width="0.5"/>
<line x1="261.20" y1="95.62" x2="274.50" y2="95.62" stroke="#fff" stroke-opacity="0.2" stroke-width="0.5"/>
<line x1="274.50" y1="95.62" x2="287.80" y2="95.62" stroke="#fff" stroke-opacity="0.2" stroke-width="0.5"/>
<line x1="317.20" y1="95.62" x2="330.20" y2="95.62" stroke="#fff" stroke-opacity="0.2" stroke-width="0.5"/>
<line x1="247.90" y1="97.62" x2="261.20" y2="97.62" stroke="#fff" stroke-opacity="0.2" stroke-width="0.5"/>
<line x1="261.20" y1="97.62" x2="274.50" y2="97.62" stroke="#fff" stroke-opacity="0.2" stroke-width="0.5"/>
<line x1="274.50" y1="97.62" x2="287.80" y2="97.62" stroke="#fff" stroke-opacity="0.2" stroke-width="0.5"/>
<line x1="317.20" y1="97.62" x2="330.20" y2="97.62" stroke="#fff" stroke-opacity="0.2" stroke-width="0.5"/>
<line x1="261.20" y1="51.62" x2="261.20" y2="99.62" stroke="#fff" stroke-opacity="0.22" stroke-width="0.5"/>
<line x1="274.50" y1="51.62" x2="274.50" y2="99.62" stroke="#fff" stroke-opacity="0.22" stroke-width="0.5"/>
<line x1="247.90" y1="104.06" x2="261.20" y2="104.06" stroke="#fff" stroke-opacity="0.2" stroke-width="0.5"/>
<line x1="261.20" y1="104.06" x2="274.50" y2="104.06" stroke="#fff" stroke-opacity="0.2" stroke-width="0.5"/>
<line x1="274.50" y1="104.06" x2="287.80" y2="104.06" stroke="#fff" stroke-opacity="0.2" stroke-width="0.5"/>
<line x1="317.20" y1="104.06" x2="330.20" y2="104.06" stroke="#fff" stroke-opacity="0.2" stroke-width="0.5"/>
<line x1="247.90" y1="106.06" x2="261.20" y2="106.06" stroke="#fff" stroke-opacity="0.2" stroke-width="0.5"/>
<line x1="261.20" y1="106.06" x2="274.50" y2="106.06" stroke="#fff" stroke-opacity="0.2" stroke-width="0.5"/>
<line x1="274.50" y1="106.06" x2="287.80" y2="106.06" stroke="#fff" stroke-opacity="0.2" stroke-width="0.5"/>
<line x1="317.20" y1="106.06" x2="330.20" y2="106.06" stroke="#fff" stroke-opacity="0.2" stroke-width="0.5"/>
<line x1="247.90" y1="108.06" x2="261.20" y2="108.06" stroke="#fff" stroke-opacity="0.2" stroke-width="0.5"/>
<line x1="261.20" y1="108.06" x2="274.50" y2="108.06" stroke="#fff" stroke-opacity="0.2" stroke-width="0.5"/>
<line x1="274.50" y1="108.06" x2="287.80" y2="108.06" stroke="#fff" stroke-opacity="0.2" stroke-width="0.5"/>
<line x1="317.20" y1="108.06" x2="330.20" y2="108.06" stroke="#fff" stroke-opacity="0.2" stroke-width="0.5"/>
<line x1="261.20" y1="102.06" x2="261.20" y2="110.06" stroke="#fff" stroke-opacity="0.22" stroke-width="0.5"/>
<line x1="274.50" y1="102.06" x2="274.50" y2="110.06" stroke="#fff" stroke-opacity="0.22" stroke-width="0.5"/>
<line x1="247.90" y1="114.50" x2="261.20" y2="114.50" stroke="#fff" stroke-opacity="0.2" stroke-width="0.5"/>
<line x1="261.20" y1="114.50" x2="274.50" y2="114.50" stroke="#fff" stroke-opacity="0.2" stroke-width="0.5"/>
<line x1="274.50" y1="114.50" x2="287.80" y2="114.50" stroke="#fff" stroke-opacity="0.2" stroke-width="0.5"/>
<line x1="317.20" y1="114.50" x2="330.20" y2="114.50" stroke="#fff" stroke-opacity="0.2" stroke-width="0.5"/>
<line x1="247.90" y1="116.50" x2="261.20" y2="116.50" stroke="#fff" stroke-opacity="0.2" stroke-width="0.5"/>
<line x1="261.20" y1="116.50" x2="274.50" y2="116.50" stroke="#fff" stroke-opacity="0.2" stroke-width="0.5"/>
<line x1="274.50" y1="116.50" x2="287.80" y2="116.50" stroke="#fff" stroke-opacity="0.2" stroke-width="0.5"/>
<line x1="317.20" y1="116.50" x2="330.20" y2="116.50" stroke="#fff" stroke-opacity="0.2" stroke-width="0.5"/>
<line x1="247.90" y1="118.50" x2="261.20" y2="118.50" stroke="#fff" stroke-opacity="0.2" stroke-width="0.5"/>
<line x1="261.20" y1="118.50" x2="274.50" y2="118.50" stroke="#fff" stroke-opacity="0.2" stroke-width="0.5"/>
<line x1="274.50" y1="118.50" x2="287.80" y2="118.50" stroke="#fff" stroke-opacity="0.2" stroke-width="0.5"/>
<line x1="317.20" y1="118.50" x2="330.20" y2="118.50" stroke="#fff" stroke-opacity="0.2" stroke-width="0.5"/>
<line x1="261.20" y1="112.50" x2="261.20" y2="120.50" stroke="#fff" stroke-opacity="0.22" stroke-width="0.5"/>
<line x1="274.50" y1="112.50" x2="274.50" y2="120.50" stroke="#fff" stroke-opacity="0.22" stroke-width="0.5"/>
<line x1="247.90" y1="124.94" x2="261.20" y2="124.94" stroke="#fff" stroke-opacity="0.2" stroke-width="0.5"/>
<line x1="261.20" y1="124.94" x2="274.50" y2="124.94" stroke="#fff" stroke-opacity="0.2" stroke-width="0.5"/>
<line x1="274.50" y1="124.94" x2="287.80" y2="124.94" stroke="#fff" stroke-opacity="0.2" stroke-width="0.5"/>
<line x1="317.20" y1="124.94" x2="330.20" y2="124.94" stroke="#fff" stroke-opacity="0.2" stroke-width="0.5"/>
<line x1="247.90" y1="126.94" x2="261.20" y2="126.94" stroke="#fff" stroke-opacity="0.2" stroke-width="0.5"/>
<line x1="261.20" y1="126.94" x2="274.50" y2="126.94" stroke="#fff" stroke-opacity="0.2" stroke-width="0.5"/>
<line x1="274.50" y1="126.94" x2="287.80" y2="126.94" stroke="#fff" stroke-opacity="0.2" stroke-width="0.5"/>
<line x1="317.20" y1="126.94" x2="330.20" y2="126.94" stroke="#fff" stroke-opacity="0.2" stroke-width="0.5"/>
<line x1="247.90" y1="128.94" x2="261.20" y2="128.94" stroke="#fff" stroke-opacity="0.2" stroke-width="0.5"/>
<line x1="261.20" y1="128.94" x2="274.50" y2="128.94" stroke="#fff" stroke-opacity="0.2" stroke-width="0.5"/>
<line x1="274.50" y1="128.94" x2="287.80" y2="128.94" stroke="#fff" stroke-opacity="0.2" stroke-width="0.5"/>
<line x1="317.20" y1="128.94" x2="330.20" y2="128.94" stroke="#fff" stroke-opacity="0.2" stroke-width="0.5"/>
<line x1="247.90" y1="130.94" x2="261.20" y2="130.94" stroke="#fff" stroke-opacity="0.2" stroke-width="0.5"/>
<line x1="261.20" y1="130.94" x2="274.50" y2="130.94" stroke="#fff" stroke-opacity="0.2" stroke-width="0.5"/>
<line x1="274.50" y1="130.94" x2="287.80" y2="130.94" stroke="#fff" stroke-opacity="0.2" stroke-width="0.5"/>
<line x1="317.20" y1="130.94" x2="330.20" y2="130.94" stroke="#fff" stroke-opacity="0.2" stroke-width="0.5"/>
<line x1="247.90" y1="132.94" x2="261.20" y2="132.94" stroke="#fff" stroke-opacity="0.2" stroke-width="0.5"/>
<line x1="261.20" y1="132.94" x2="274.50" y2="132.94" stroke="#fff" stroke-opacity="0.2" stroke-width="0.5"/>
<line x1="274.50" y1="132.94" x2="287.80" y2="132.94" stroke="#fff" stroke-opacity="0.2" stroke-width="0.5"/>
<line x1="317.20" y1="132.94" x2="330.20" y2="132.94" stroke="#fff" stroke-opacity="0.2" stroke-width="0.5"/>
<line x1="261.20" y1="122.94" x2="261.20" y2="134.94" stroke="#fff" stroke-opacity="0.22" stroke-width="0.5"/>
<line x1="274.50" y1="122.94" x2="274.50" y2="134.94" stroke="#fff" stroke-opacity="0.22" stroke-width="0.5"/>
<line x1="247.90" y1="139.38" x2="261.20" y2="139.38" stroke="#fff" stroke-opacity="0.2" stroke-width="0.5"/>
<line x1="261.20" y1="139.38" x2="274.50" y2="139.38" stroke="#fff" stroke-opacity="0.2" stroke-width="0.5"/>
<line x1="274.50" y1="139.38" x2="287.80" y2="139.38" stroke="#fff" stroke-opacity="0.2" stroke-width="0.5"/>
<line x1="247.90" y1="141.38" x2="261.20" y2="141.38" stroke="#fff" stroke-opacity="0.2" stroke-width="0.5"/>
<line x1="261.20" y1="141.38" x2="274.50" y2="141.38" stroke="#fff" stroke-opacity="0.2" stroke-width="0.5"/>
<line x1="274.50" y1="141.38" x2="287.80" y2="141.38" stroke="#fff" stroke-opacity="0.2" stroke-width="0.5"/>
<line x1="247.90" y1="143.38" x2="261.20" y2="143.38" stroke="#fff" stroke-opacity="0.2" stroke-width="0.5"/>
<line x1="261.20" y1="143.38" x2="274.50" y2="143.38" stroke="#fff" stroke-opacity="0.2" stroke-width="0.5"/>
<line x1="274.50" y1="143.38" x2="287.80" y2="143.38" stroke="#fff" stroke-opacity="0.2" stroke-width="0.5"/>
<line x1="247.90" y1="145.38" x2="261.20" y2="145.38" stroke="#fff" stroke-opacity="0.2" stroke-width="0.5"/>
<line x1="261.20" y1="145.38" x2="274.50" y2="145.38" stroke="#fff" stroke-opacity="0.2" stroke-width="0.5"/>
<line x1="274.50" y1="145.38" x2="287.80" y2="145.38" stroke="#fff" stroke-opacity="0.2" stroke-width="0.5"/>
<line x1="261.20" y1="137.38" x2="261.20" y2="147.38" stroke="#fff" stroke-opacity="0.22" stroke-width="0.5"/>
<line x1="274.50" y1="137.38" x2="274.50" y2="147.38" stroke="#fff" stroke-opacity="0.22" stroke-width="0.5"/>
<line x1="247.90" y1="151.82" x2="261.20" y2="151.82" stroke="#fff" stroke-opacity="0.2" stroke-width="0.5"/>
<line x1="261.20" y1="151.82" x2="274.50" y2="151.82" stroke="#fff" stroke-opacity="0.2" stroke-width="0.5"/>
<line x1="274.50" y1="151.82" x2="287.80" y2="151.82" stroke="#fff" stroke-opacity="0.2" stroke-width="0.5"/>
<line x1="247.90" y1="153.82" x2="261.20" y2="153.82" stroke="#fff" stroke-opacity="0.2" stroke-width="0.5"/>
<line x1="261.20" y1="153.82" x2="274.50" y2="153.82" stroke="#fff" stroke-opacity="0.2" stroke-width="0.5"/>
<line x1="274.50" y1="153.82" x2="287.80" y2="153.82" stroke="#fff" stroke-opacity="0.2" stroke-width="0.5"/>
<line x1="247.90" y1="155.82" x2="261.20" y2="155.82" stroke="#fff" stroke-opacity="0.2" stroke-width="0.5"/>
<line x1="261.20" y1="155.82" x2="274.50" y2="155.82" stroke="#fff" stroke-opacity="0.2" stroke-width="0.5"/>
<line x1="274.50" y1="155.82" x2="287.80" y2="155.82" stroke="#fff" stroke-opacity="0.2" stroke-width="0.5"/>
<line x1="247.90" y1="157.82" x2="261.20" y2="157.82" stroke="#fff" stroke-opacity="0.2" stroke-width="0.5"/>
<line x1="261.20" y1="157.82" x2="274.50" y2="157.82" stroke="#fff" stroke-opacity="0.2" stroke-width="0.5"/>
<line x1="274.50" y1="157.82" x2="287.80" y2="157.82" stroke="#fff" stroke-opacity="0.2" stroke-width="0.5"/>
<line x1="247.90" y1="159.82" x2="261.20" y2="159.82" stroke="#fff" stroke-opacity="0.2" stroke-width="0.5"/>
<line x1="261.20" y1="159.82" x2="274.50" y2="159.82" stroke="#fff" stroke-opacity="0.2" stroke-width="0.5"/>
<line x1="274.50" y1="159.82" x2="287.80" y2="159.82" stroke="#fff" stroke-opacity="0.2" stroke-width="0.5"/>
<line x1="261.20" y1="149.82" x2="261.20" y2="161.82" stroke="#fff" stroke-opacity="0.22" stroke-width="0.5"/>
<line x1="274.50" y1="149.82" x2="274.50" y2="161.82" stroke="#fff" stroke-opacity="0.22" stroke-width="0.5"/>
<line x1="247.90" y1="166.26" x2="261.20" y2="166.26" stroke="#fff" stroke-opacity="0.2" stroke-width="0.5"/>
<line x1="261.20" y1="166.26" x2="274.50" y2="166.26" stroke="#fff" stroke-opacity="0.2" stroke-width="0.5"/>
<line x1="317.20" y1="166.26" x2="330.20" y2="166.26" stroke="#fff" stroke-opacity="0.2" stroke-width="0.5"/>
<line x1="247.90" y1="168.26" x2="261.20" y2="168.26" stroke="#fff" stroke-opacity="0.2" stroke-width="0.5"/>
<line x1="261.20" y1="168.26" x2="274.50" y2="168.26" stroke="#fff" stroke-opacity="0.2" stroke-width="0.5"/>
<line x1="317.20" y1="168.26" x2="330.20" y2="168.26" stroke="#fff" stroke-opacity="0.2" stroke-width="0.5"/>
<line x1="247.90" y1="170.26" x2="261.20" y2="170.26" stroke="#fff" stroke-opacity="0.2" stroke-width="0.5"/>
<line x1="261.20" y1="170.26" x2="274.50" y2="170.26" stroke="#fff" stroke-opacity="0.2" stroke-width="0.5"/>
<line x1="317.20" y1="170.26" x2="330.20" y2="170.26" stroke="#fff" stroke-opacity="0.2" stroke-width="0.5"/>
<line x1="247.90" y1="172.26" x2="261.20" y2="172.26" stroke="#fff" stroke-opacity="0.2" stroke-width="0.5"/>
<line x1="261.20" y1="172.26" x2="274.50" y2="172.26" stroke="#fff" stroke-opacity="0.2" stroke-width="0.5"/>
<line x1="317.20" y1="172.26" x2="330.20" y2="172.26" stroke="#fff" stroke-opacity="0.2" stroke-width="0.5"/>
<line x1="247.90" y1="174.26" x2="261.20" y2="174.26" stroke="#fff" stroke-opacity="0.2" stroke-width="0.5"/>
<line x1="261.20" y1="174.26" x2="274.50" y2="174.26" stroke="#fff" stroke-opacity="0.2" stroke-width="0.5"/>
<line x1="317.20" y1="174.26" x2="330.20" y2="174.26" stroke="#fff" stroke-opacity="0.2" stroke-width="0.5"/>
<line x1="247.90" y1="176.26" x2="261.20" y2="176.26" stroke="#fff" stroke-opacity="0.2" stroke-width="0.5"/>
<line x1="261.20" y1="176.26" x2="274.50" y2="176.26" stroke="#fff" stroke-opacity="0.2" stroke-width="0.5"/>
<line x1="317.20" y1="176.26" x2="330.20" y2="176.26" stroke="#fff" stroke-opacity="0.2" stroke-width="0.5"/>
<line x1="261.20" y1="164.26" x2="261.20" y2="178.26" stroke="#fff" stroke-opacity="0.22" stroke-width="0.5"/>
<line x1="247.90" y1="182.70" x2="261.20" y2="182.70" stroke="#fff" stroke-opacity="0.2" stroke-width="0.5"/>
<line x1="261.20" y1="182.70" x2="274.50" y2="182.70" stroke="#fff" stroke-opacity="0.2" stroke-width="0.5"/>
<line x1="317.20" y1="182.70" x2="330.20" y2="182.70" stroke="#fff" stroke-opacity="0.2" stroke-width="0.5"/>
<line x1="247.90" y1="184.70" x2="261.20" y2="184.70" stroke="#fff" stroke-opacity="0.2" stroke-width="0.5"/>
<line x1="261.20" y1="184.70" x2="274.50" y2="184.70" stroke="#fff" stroke-opacity="0.2" stroke-width="0.5"/>
<line x1="317.20" y1="184.70" x2="330.20" y2="184.70" stroke="#fff" stroke-opacity="0.2" stroke-width="0.5"/>
<line x1="247.90" y1="186.70" x2="261.20" y2="186.70" stroke="#fff" stroke-opacity="0.2" stroke-width="0.5"/>
<line x1="261.20" y1="186.70" x2="274.50" y2="186.70" stroke="#fff" stroke-opacity="0.2" stroke-width="0.5"/>
<line x1="317.20" y1="186.70" x2="330.20" y2="186.70" stroke="#fff" stroke-opacity="0.2" stroke-width="0.5"/>
<line x1="261.20" y1="180.70" x2="261.20" y2="188.70" stroke="#fff" stroke-opacity="0.22" stroke-width="0.5"/>
<line x1="247.90" y1="193.14" x2="261.20" y2="193.14" stroke="#fff" stroke-opacity="0.2" stroke-width="0.5"/>
<line x1="261.20" y1="193.14" x2="274.50" y2="193.14" stroke="#fff" stroke-opacity="0.2" stroke-width="0.5"/>
<line x1="317.20" y1="193.14" x2="330.20" y2="193.14" stroke="#fff" stroke-opacity="0.2" stroke-width="0.5"/>
<line x1="247.90" y1="195.14" x2="261.20" y2="195.14" stroke="#fff" stroke-opacity="0.2" stroke-width="0.5"/>
<line x1="261.20" y1="195.14" x2="274.50" y2="195.14" stroke="#fff" stroke-opacity="0.2" stroke-width="0.5"/>
<line x1="317.20" y1="195.14" x2="330.20" y2="195.14" stroke="#fff" stroke-opacity="0.2" stroke-width="0.5"/>
<line x1="247.90" y1="197.14" x2="261.20" y2="197.14" stroke="#fff" stroke-opacity="0.2" stroke-width="0.5"/>
<line x1="261.20" y1="197.14" x2="274.50" y2="197.14" stroke="#fff" stroke-opacity="0.2" stroke-width="0.5"/>
<line x1="317.20" y1="197.14" x2="330.20" y2="197.14" stroke="#fff" stroke-opacity="0.2" stroke-width="0.5"/>
<line x1="247.90" y1="199.14" x2="261.20" y2="199.14" stroke="#fff" stroke-opacity="0.2" stroke-width="0.5"/>
<line x1="261.20" y1="199.14" x2="274.50" y2="199.14" stroke="#fff" stroke-opacity="0.2" stroke-width="0.5"/>
<line x1="317.20" y1="199.14" x2="330.20" y2="199.14" stroke="#fff" stroke-opacity="0.2" stroke-width="0.5"/>
<line x1="247.90" y1="201.14" x2="261.20" y2="201.14" stroke="#fff" stroke-opacity="0.2" stroke-width="0.5"/>
<line x1="261.20" y1="201.14" x2="274.50" y2="201.14" stroke="#fff" stroke-opacity="0.2" stroke-width="0.5"/>
<line x1="317.20" y1="201.14" x2="330.20" y2="201.14" stroke="#fff" stroke-opacity="0.2" stroke-width="0.5"/>
<line x1="247.90" y1="203.14" x2="261.20" y2="203.14" stroke="#fff" stroke-opacity="0.2" stroke-width="0.5"/>
<line x1="261.20" y1="203.14" x2="274.50" y2="203.14" stroke="#fff" stroke-opacity="0.2" stroke-width="0.5"/>
<line x1="317.20" y1="203.14" x2="330.20" y2="203.14" stroke="#fff" stroke-opacity="0.2" stroke-width="0.5"/>
<line x1="247.90" y1="205.14" x2="261.20" y2="205.14" stroke="#fff" stroke-opacity="0.2" stroke-width="0.5"/>
<line x1="261.20" y1="205.14" x2="274.50" y2="205.14" stroke="#fff" stroke-opacity="0.2" stroke-width="0.5"/>
<line x1="317.20" y1="205.14" x2="330.20" y2="205.14" stroke="#fff" stroke-opacity="0.2" stroke-width="0.5"/>
<line x1="247.90" y1="207.14" x2="261.20" y2="207.14" stroke="#fff" stroke-opacity="0.2" stroke-width="0.5"/>
<line x1="261.20" y1="207.14" x2="274.50" y2="207.14" stroke="#fff" stroke-opacity="0.2" stroke-width="0.5"/>
<line x1="317.20" y1="207.14" x2="330.20" y2="207.14" stroke="#fff" stroke-opacity="0.2" stroke-width="0.5"/>
<line x1="247.90" y1="209.14" x2="261.20" y2="209.14" stroke="#fff" stroke-opacity="0.2" stroke-width="0.5"/>
<line x1="261.20" y1="209.14" x2="274.50" y2="209.14" stroke="#fff" stroke-opacity="0.2" stroke-width="0.5"/>
<line x1="317.20" y1="209.14" x2="330.20" y2="209.14" stroke="#fff" stroke-opacity="0.2" stroke-width="0.5"/>
<line x1="261.20" y1="191.14" x2="261.20" y2="211.14" stroke="#fff" stroke-opacity="0.22" stroke-width="0.5"/>
<line x1="247.90" y1="215.58" x2="261.20" y2="215.58" stroke="#fff" stroke-opacity="0.2" stroke-width="0.5"/>
<line x1="261.20" y1="215.58" x2="274.50" y2="215.58" stroke="#fff" stroke-opacity="0.2" stroke-width="0.5"/>
<line x1="317.20" y1="215.58" x2="330.20" y2="215.58" stroke="#fff" stroke-opacity="0.2" stroke-width="0.5"/>
<line x1="247.90" y1="217.58" x2="261.20" y2="217.58" stroke="#fff" stroke-opacity="0.2" stroke-width="0.5"/>
<line x1="261.20" y1="217.58" x2="274.50" y2="217.58" stroke="#fff" stroke-opacity="0.2" stroke-width="0.5"/>
<line x1="317.20" y1="217.58" x2="330.20" y2="217.58" stroke="#fff" stroke-opacity="0.2" stroke-width="0.5"/>
<line x1="247.90" y1="219.58" x2="261.20" y2="219.58" stroke="#fff" stroke-opacity="0.2" stroke-width="0.5"/>
<line x1="261.20" y1="219.58" x2="274.50" y2="219.58" stroke="#fff" stroke-opacity="0.2" stroke-width="0.5"/>
<line x1="317.20" y1="219.58" x2="330.20" y2="219.58" stroke="#fff" stroke-opacity="0.2" stroke-width="0.5"/>
<line x1="247.90" y1="221.58" x2="261.20" y2="221.58" stroke="#fff" stroke-opacity="0.2" stroke-width="0.5"/>
<line x1="261.20" y1="221.58" x2="274.50" y2="221.58" stroke="#fff" stroke-opacity="0.2" stroke-width="0.5"/>
<line x1="317.20" y1="221.58" x2="330.20" y2="221.58" stroke="#fff" stroke-opacity="0.2" stroke-width="0.5"/>
<line x1="247.90" y1="223.58" x2="261.20" y2="223.58" stroke="#fff" stroke-opacity="0.2" stroke-width="0.5"/>
<line x1="261.20" y1="223.58" x2="274.50" y2="223.58" stroke="#fff" stroke-opacity="0.2" stroke-width="0.5"/>
<line x1="317.20" y1="223.58" x2="330.20" y2="223.58" stroke="#fff" stroke-opacity="0.2" stroke-width="0.5"/>
<line x1="247.90" y1="225.58" x2="261.20" y2="225.58" stroke="#fff" stroke-opacity="0.2" stroke-width="0.5"/>
<line x1="261.20" y1="225.58" x2="274.50" y2="225.58" stroke="#fff" stroke-opacity="0.2" stroke-width="0.5"/>
<line x1="317.20" y1="225.58" x2="330.20" y2="225.58" stroke="#fff" stroke-opacity="0.2" stroke-width="0.5"/>
<line x1="261.20" y1="213.58" x2="261.20" y2="227.58" stroke="#fff" stroke-opacity="0.22" stroke-width="0.5"/>
<line x1="247.90" y1="232.02" x2="261.20" y2="232.02" stroke="#fff" stroke-opacity="0.2" stroke-width="0.5"/>
<line x1="261.20" y1="232.02" x2="274.50" y2="232.02" stroke="#fff" stroke-opacity="0.2" stroke-width="0.5"/>
<line x1="247.90" y1="234.02" x2="261.20" y2="234.02" stroke="#fff" stroke-opacity="0.2" stroke-width="0.5"/>
<line x1="261.20" y1="234.02" x2="274.50" y2="234.02" stroke="#fff" stroke-opacity="0.2" stroke-width="0.5"/>
<line x1="247.90" y1="236.02" x2="261.20" y2="236.02" stroke="#fff" stroke-opacity="0.2" stroke-width="0.5"/>
<line x1="261.20" y1="236.02" x2="274.50" y2="236.02" stroke="#fff" stroke-opacity="0.2" stroke-width="0.5"/>
<line x1="247.90" y1="238.02" x2="261.20" y2="238.02" stroke="#fff" stroke-opacity="0.2" stroke-width="0.5"/>
<line x1="261.20" y1="238.02" x2="274.50" y2="238.02" stroke="#fff" stroke-opacity="0.2" stroke-width="0.5"/>
<line x1="261.20" y1="230.02" x2="261.20" y2="240.02" stroke="#fff" stroke-opacity="0.22" stroke-width="0.5"/>
<line x1="247.90" y1="244.46" x2="261.20" y2="244.46" stroke="#fff" stroke-opacity="0.2" stroke-width="0.5"/>
<line x1="261.20" y1="244.46" x2="274.50" y2="244.46" stroke="#fff" stroke-opacity="0.2" stroke-width="0.5"/>
<line x1="247.90" y1="246.46" x2="261.20" y2="246.46" stroke="#fff" stroke-opacity="0.2" stroke-width="0.5"/>
<line x1="261.20" y1="246.46" x2="274.50" y2="246.46" stroke="#fff" stroke-opacity="0.2" stroke-width="0.5"/>
<line x1="247.90" y1="248.46" x2="261.20" y2="248.46" stroke="#fff" stroke-opacity="0.2" stroke-width="0.5"/>
<line x1="261.20" y1="248.46" x2="274.50" y2="248.46" stroke="#fff" stroke-opacity="0.2" stroke-width="0.5"/>
<line x1="247.90" y1="250.46" x2="261.20" y2="250.46" stroke="#fff" stroke-opacity="0.2" stroke-width="0.5"/>
<line x1="261.20" y1="250.46" x2="274.50" y2="250.46" stroke="#fff" stroke-opacity="0.2" stroke-width="0.5"/>
<line x1="247.90" y1="252.46" x2="261.20" y2="252.46" stroke="#fff" stroke-opacity="0.2" stroke-width="0.5"/>
<line x1="261.20" y1="252.46" x2="274.50" y2="252.46" stroke="#fff" stroke-opacity="0.2" stroke-width="0.5"/>
<line x1="261.20" y1="242.46" x2="261.20" y2="254.46" stroke="#fff" stroke-opacity="0.22" stroke-width="0.5"/>
<text transform="translate(242.7,138.4) rotate(-90) scale(1,1.12)" font-size="7.8" text-anchor="middle" fill="#111">Mutations (n=99) grouped by patient (n=15)</text>
<rect x="246.6" y="265.4" width="84" height="26.6" rx="1.5" fill="#fff" stroke="#dcdcdc" stroke-width="0.8"/>
<rect x="250.3" y="270.3" width="12.8" height="3.2" fill="#0b72b1"/>
<rect x="250.3" y="282.6" width="12.8" height="3.2" fill="#d3d3d3"/>
<text transform="translate(268.5,275.1) scale(1,1.1)" font-size="7.8" fill="#1a1a1a">Mutation present</text>
<text transform="translate(268.5,286.9) scale(1,1.1)" font-size="7.8" fill="#1a1a1a">Mutation absent</text>
<text transform="translate(658.4,9.6) scale(1,1.1)" font-size="7.8" text-anchor="middle" fill="#1a1a1a">mUC ctDNA</text>
<text transform="translate(638.6,18.0) scale(1,1.1)" font-size="7.8" text-anchor="middle" fill="#1a1a1a">1</text>
<text transform="translate(651.7,18.0) scale(1,1.1)" font-size="7.8" text-anchor="middle" fill="#1a1a1a">2</text>
<text transform="translate(664.8,18.0) scale(1,1.1)" font-size="7.8" text-anchor="middle" fill="#1a1a1a">3</text>
<text transform="translate(677.9,18.0) scale(1,1.1)" font-size="7.8" text-anchor="middle" fill="#1a1a1a">4</text>
<rect x="630.1" y="22.40" width="1.5" height="8.00" fill="#aaa"/>
<rect x="631.70" y="22.40" width="13.55" height="8.00" fill="#0b72b1"/>
<rect x="644.90" y="22.40" width="13.55" height="8.00" fill="#0b72b1"/>
<rect x="658.10" y="22.40" width="13.55" height="8.00" fill="#0b72b1"/>
<rect x="671.30" y="22.40" width="13.55" height="8.00" fill="#0b72b1"/>
<rect x="630.1" y="32.72" width="1.5" height="12.00" fill="#aaa"/>
<rect x="631.70" y="32.72" width="13.55" height="12.00" fill="#0b72b1"/>
<rect x="644.90" y="32.72" width="13.55" height="12.00" fill="#0b72b1"/>
<rect x="658.10" y="32.72" width="13.55" height="12.00" fill="#0b72b1"/>
<rect x="671.30" y="32.72" width="13.55" height="12.00" fill="#0b72b1"/>
<rect x="630.1" y="47.04" width="1.5" height="14.00" fill="#aaa"/>
<rect x="631.70" y="47.04" width="13.55" height="14.00" fill="#0b72b1"/>
<rect x="644.90" y="47.04" width="13.55" height="14.00" fill="#0b72b1"/>
<rect x="658.10" y="47.04" width="13.55" height="14.00" fill="#0b72b1"/>
<rect x="671.30" y="47.04" width="13.55" height="14.00" fill="#0b72b1"/>
<rect x="630.1" y="63.36" width="1.5" height="16.00" fill="#aaa"/>
<rect x="631.70" y="63.36" width="13.55" height="16.00" fill="#0b72b1"/>
<rect x="644.90" y="63.36" width="13.55" height="16.00" fill="#0b72b1"/>
<rect x="658.10" y="63.36" width="13.55" height="16.00" fill="#0b72b1"/>
<rect x="671.30" y="63.36" width="13.55" height="16.00" fill="#0b72b1"/>
<rect x="630.1" y="81.68" width="1.5" height="4.00" fill="#aaa"/>
<rect x="631.70" y="81.68" width="13.55" height="4.00" fill="#0b72b1"/>
<rect x="644.90" y="81.68" width="13.55" height="4.00" fill="#0b72b1"/>
<rect x="658.10" y="81.68" width="13.55" height="4.00" fill="#0b72b1"/>
<rect x="630.1" y="88.00" width="1.5" height="10.00" fill="#aaa"/>
<rect x="631.70" y="88.00" width="13.55" height="10.00" fill="#0b72b1"/>
<rect x="644.90" y="88.00" width="13.55" height="10.00" fill="#0b72b1"/>
<rect x="658.10" y="88.00" width="13.55" height="10.00" fill="#0b72b1"/>
<rect x="630.1" y="100.32" width="1.5" height="10.00" fill="#aaa"/>
<rect x="631.70" y="100.32" width="13.55" height="10.00" fill="#0b72b1"/>
<rect x="644.90" y="100.32" width="13.55" height="10.00" fill="#0b72b1"/>
<rect x="658.10" y="100.32" width="13.55" height="8.00" fill="#0b72b1"/>
<rect x="658.10" y="108.32" width="13.55" height="2.00" fill="#d3d3d3"/>
<rect x="630.1" y="112.64" width="1.5" height="14.00" fill="#aaa"/>
<rect x="631.70" y="112.64" width="13.55" height="14.00" fill="#0b72b1"/>
<rect x="644.90" y="112.64" width="13.55" height="14.00" fill="#0b72b1"/>
<rect x="658.10" y="112.64" width="13.55" height="14.00" fill="#0b72b1"/>
<rect x="630.1" y="128.96" width="1.5" height="12.00" fill="#aaa"/>
<rect x="631.70" y="128.96" width="13.55" height="12.00" fill="#0b72b1"/>
<rect x="644.90" y="128.96" width="13.55" height="12.00" fill="#0b72b1"/>
<rect x="658.10" y="128.96" width="13.55" height="12.00" fill="#0b72b1"/>
<rect x="630.1" y="143.28" width="1.5" height="10.00" fill="#aaa"/>
<rect x="631.70" y="143.28" width="13.55" height="8.00" fill="#0b72b1"/>
<rect x="631.70" y="151.28" width="13.55" height="2.00" fill="#d3d3d3"/>
<rect x="644.90" y="143.28" width="13.55" height="2.00" fill="#0b72b1"/>
<rect x="644.90" y="145.28" width="13.55" height="8.00" fill="#d3d3d3"/>
<rect x="658.10" y="143.28" width="13.55" height="10.00" fill="#0b72b1"/>
<rect x="630.1" y="155.60" width="1.5" height="8.00" fill="#aaa"/>
<rect x="631.70" y="155.60" width="13.55" height="8.00" fill="#0b72b1"/>
<rect x="644.90" y="155.60" width="13.55" height="8.00" fill="#0b72b1"/>
<rect x="658.10" y="155.60" width="13.55" height="8.00" fill="#0b72b1"/>
<rect x="630.1" y="165.92" width="1.5" height="8.00" fill="#aaa"/>
<rect x="631.70" y="165.92" width="13.55" height="8.00" fill="#0b72b1"/>
<rect x="644.90" y="165.92" width="13.55" height="8.00" fill="#0b72b1"/>
<rect x="658.10" y="165.92" width="13.55" height="8.00" fill="#0b72b1"/>
<rect x="630.1" y="176.24" width="1.5" height="10.00" fill="#aaa"/>
<rect x="631.70" y="176.24" width="13.55" height="6.00" fill="#0b72b1"/>
<rect x="631.70" y="182.24" width="13.55" height="4.00" fill="#d3d3d3"/>
<rect x="644.90" y="176.24" width="13.55" height="8.00" fill="#0b72b1"/>
<rect x="644.90" y="184.24" width="13.55" height="2.00" fill="#d3d3d3"/>
<rect x="658.10" y="176.24" width="13.55" height="10.00" fill="#0b72b1"/>
<rect x="630.1" y="188.56" width="1.5" height="8.00" fill="#aaa"/>
<rect x="631.70" y="188.56" width="13.55" height="8.00" fill="#0b72b1"/>
<rect x="644.90" y="188.56" width="13.55" height="8.00" fill="#0b72b1"/>
<rect x="630.1" y="198.88" width="1.5" height="8.00" fill="#aaa"/>
<rect x="631.70" y="198.88" width="13.55" height="8.00" fill="#0b72b1"/>
<rect x="644.90" y="198.88" width="13.55" height="8.00" fill="#0b72b1"/>
<rect x="630.1" y="209.20" width="1.5" height="8.00" fill="#aaa"/>
<rect x="631.70" y="209.20" width="13.55" height="8.00" fill="#0b72b1"/>
<rect x="644.90" y="209.20" width="13.55" height="8.00" fill="#0b72b1"/>
<rect x="630.1" y="219.52" width="1.5" height="16.00" fill="#aaa"/>
<rect x="631.70" y="219.52" width="13.55" height="16.00" fill="#0b72b1"/>
<rect x="644.90" y="219.52" width="13.55" height="16.00" fill="#0b72b1"/>
<rect x="630.1" y="237.84" width="1.5" height="14.00" fill="#aaa"/>
<rect x="631.70" y="237.84" width="13.55" height="14.00" fill="#0b72b1"/>
<rect x="644.90" y="237.84" width="13.55" height="6.00" fill="#0b72b1"/>
<rect x="644.90" y="243.84" width="13.55" height="8.00" fill="#d3d3d3"/>
<rect x="630.1" y="254.16" width="1.5" height="14.00" fill="#aaa"/>
<rect x="631.70" y="254.16" width="13.55" height="14.00" fill="#0b72b1"/>
<rect x="644.90" y="254.16" width="13.55" height="14.00" fill="#0b72b1"/>
<rect x="630.1" y="270.48" width="1.5" height="6.00" fill="#aaa"/>
<rect x="631.70" y="270.48" width="13.55" height="6.00" fill="#0b72b1"/>
<rect x="644.90" y="270.48" width="13.55" height="6.00" fill="#0b72b1"/>
<rect x="630.1" y="278.80" width="1.5" height="8.00" fill="#aaa"/>
<rect x="631.70" y="278.80" width="13.55" height="8.00" fill="#0b72b1"/>
<rect x="644.90" y="278.80" width="13.55" height="8.00" fill="#0b72b1"/>
<line x1="631.70" y1="24.40" x2="644.90" y2="24.40" stroke="#fff" stroke-opacity="0.2" stroke-width="0.5"/>
<line x1="644.90" y1="24.40" x2="658.10" y2="24.40" stroke="#fff" stroke-opacity="0.2" stroke-width="0.5"/>
<line x1="658.10" y1="24.40" x2="671.30" y2="24.40" stroke="#fff" stroke-opacity="0.2" stroke-width="0.5"/>
<line x1="671.30" y1="24.40" x2="684.50" y2="24.40" stroke="#fff" stroke-opacity="0.2" stroke-width="0.5"/>
<line x1="631.70" y1="26.40" x2="644.90" y2="26.40" stroke="#fff" stroke-opacity="0.2" stroke-width="0.5"/>
<line x1="644.90" y1="26.40" x2="658.10" y2="26.40" stroke="#fff" stroke-opacity="0.2" stroke-width="0.5"/>
<line x1="658.10" y1="26.40" x2="671.30" y2="26.40" stroke="#fff" stroke-opacity="0.2" stroke-width="0.5"/>
<line x1="671.30" y1="26.40" x2="684.50" y2="26.40" stroke="#fff" stroke-opacity="0.2" stroke-width="0.5"/>
<line x1="631.70" y1="28.40" x2="644.90" y2="28.40" stroke="#fff" stroke-opacity="0.2" stroke-width="0.5"/>
<line x1="644.90" y1="28.40" x2="658.10" y2="28.40" stroke="#fff" stroke-opacity="0.2" stroke-width="0.5"/>
<line x1="658.10" y1="28.40" x2="671.30" y2="28.40" stroke="#fff" stroke-opacity="0.2" stroke-width="0.5"/>
<line x1="671.30" y1="28.40" x2="684.50" y2="28.40" stroke="#fff" stroke-opacity="0.2" stroke-width="0.5"/>
<line x1="644.90" y1="22.40" x2="644.90" y2="30.40" stroke="#fff" stroke-opacity="0.22" stroke-width="0.5"/>
<line x1="658.10" y1="22.40" x2="658.10" y2="30.40" stroke="#fff" stroke-opacity="0.22" stroke-width="0.5"/>
<line x1="671.30" y1="22.40" x2="671.30" y2="30.40" stroke="#fff" stroke-opacity="0.22" stroke-width="0.5"/>
<line x1="631.70" y1="34.72" x2="644.90" y2="34.72" stroke="#fff" stroke-opacity="0.2" stroke-width="0.5"/>
<line x1="644.90" y1="34.72" x2="658.10" y2="34.72" stroke="#fff" stroke-opacity="0.2" stroke-width="0.5"/>
<line x1="658.10" y1="34.72" x2="671.30" y2="34.72" stroke="#fff" stroke-opacity="0.2" stroke-width="0.5"/>
<line x1="671.30" y1="34.72" x2="684.50" y2="34.72" stroke="#fff" stroke-opacity="0.2" stroke-width="0.5"/>
<line x1="631.70" y1="36.72" x2="644.90" y2="36.72" stroke="#fff" stroke-opacity="0.2" stroke-width="0.5"/>
<line x1="644.90" y1="36.72" x2="658.10" y2="36.72" stroke="#fff" stroke-opacity="0.2" stroke-width="0.5"/>
<line x1="658.10" y1="36.72" x2="671.30" y2="36.72" stroke="#fff" stroke-opacity="0.2" stroke-width="0.5"/>
<line x1="671.30" y1="36.72" x2="684.50" y2="36.72" stroke="#fff" stroke-opacity="0.2" stroke-width="0.5"/>
<line x1="631.70" y1="38.72" x2="644.90" y2="38.72" stroke="#fff" stroke-opacity="0.2" stroke-width="0.5"/>
<line x1="644.90" y1="38.72" x2="658.10" y2="38.72" stroke="#fff" stroke-opacity="0.2" stroke-width="0.5"/>
<line x1="658.10" y1="38.72" x2="671.30" y2="38.72" stroke="#fff" stroke-opacity="0.2" stroke-width="0.5"/>
<line x1="671.30" y1="38.72" x2="684.50" y2="38.72" stroke="#fff" stroke-opacity="0.2" stroke-width="0.5"/>
<line x1="631.70" y1="40.72" x2="644.90" y2="40.72" stroke="#fff" stroke-opacity="0.2" stroke-width="0.5"/>
<line x1="644.90" y1="40.72" x2="658.10" y2="40.72" stroke="#fff" stroke-opacity="0.2" stroke-width="0.5"/>
<line x1="658.10" y1="40.72" x2="671.30" y2="40.72" stroke="#fff" stroke-opacity="0.2" stroke-width="0.5"/>
<line x1="671.30" y1="40.72" x2="684.50" y2="40.72" stroke="#fff" stroke-opacity="0.2" stroke-width="0.5"/>
<line x1="631.70" y1="42.72" x2="644.90" y2="42.72" stroke="#fff" stroke-opacity="0.2" stroke-width="0.5"/>
<line x1="644.90" y1="42.72" x2="658.10" y2="42.72" stroke="#fff" stroke-opacity="0.2" stroke-width="0.5"/>
<line x1="658.10" y1="42.72" x2="671.30" y2="42.72" stroke="#fff" stroke-opacity="0.2" stroke-width="0.5"/>
<line x1="671.30" y1="42.72" x2="684.50" y2="42.72" stroke="#fff" stroke-opacity="0.2" stroke-width="0.5"/>
<line x1="644.90" y1="32.72" x2="644.90" y2="44.72" stroke="#fff" stroke-opacity="0.22" stroke-width="0.5"/>
<line x1="658.10" y1="32.72" x2="658.10" y2="44.72" stroke="#fff" stroke-opacity="0.22" stroke-width="0.5"/>
<line x1="671.30" y1="32.72" x2="671.30" y2="44.72" stroke="#fff" stroke-opacity="0.22" stroke-width="0.5"/>
<line x1="631.70" y1="49.04" x2="644.90" y2="49.04" stroke="#fff" stroke-opacity="0.2" stroke-width="0.5"/>
<line x1="644.90" y1="49.04" x2="658.10" y2="49.04" stroke="#fff" stroke-opacity="0.2" stroke-width="0.5"/>
<line x1="658.10" y1="49.04" x2="671.30" y2="49.04" stroke="#fff" stroke-opacity="0.2" stroke-width="0.5"/>
<line x1="671.30" y1="49.04" x2="684.50" y2="49.04" stroke="#fff" stroke-opacity="0.2" stroke-width="0.5"/>
<line x1="631.70" y1="51.04" x2="644.90" y2="51.04" stroke="#fff" stroke-opacity="0.2" stroke-width="0.5"/>
<line x1="644.90" y1="51.04" x2="658.10" y2="51.04" stroke="#fff" stroke-opacity="0.2" stroke-width="0.5"/>
<line x1="658.10" y1="51.04" x2="671.30" y2="51.04" stroke="#fff" stroke-opacity="0.2" stroke-width="0.5"/>
<line x1="671.30" y1="51.04" x2="684.50" y2="51.04" stroke="#fff" stroke-opacity="0.2" stroke-width="0.5"/>
<line x1="631.70" y1="53.04" x2="644.90" y2="53.04" stroke="#fff" stroke-opacity="0.2" stroke-width="0.5"/>
<line x1="644.90" y1="53.04" x2="658.10" y2="53.04" stroke="#fff" stroke-opacity="0.2" stroke-width="0.5"/>
<line x1="658.10" y1="53.04" x2="671.30" y2="53.04" stroke="#fff" stroke-opacity="0.2" stroke-width="0.5"/>
<line x1="671.30" y1="53.04" x2="684.50" y2="53.04" stroke="#fff" stroke-opacity="0.2" stroke-width="0.5"/>
<line x1="631.70" y1="55.04" x2="644.90" y2="55.04" stroke="#fff" stroke-opacity="0.2" stroke-width="0.5"/>
<line x1="644.90" y1="55.04" x2="658.10" y2="55.04" stroke="#fff" stroke-opacity="0.2" stroke-width="0.5"/>
<line x1="658.10" y1="55.04" x2="671.30" y2="55.04" stroke="#fff" stroke-opacity="0.2" stroke-width="0.5"/>
<line x1="671.30" y1="55.04" x2="684.50" y2="55.04" stroke="#fff" stroke-opacity="0.2" stroke-width="0.5"/>
<line x1="631.70" y1="57.04" x2="644.90" y2="57.04" stroke="#fff" stroke-opacity="0.2" stroke-width="0.5"/>
<line x1="644.90" y1="57.04" x2="658.10" y2="57.04" stroke="#fff" stroke-opacity="0.2" stroke-width="0.5"/>
<line x1="658.10" y1="57.04" x2="671.30" y2="57.04" stroke="#fff" stroke-opacity="0.2" stroke-width="0.5"/>
<line x1="671.30" y1="57.04" x2="684.50" y2="57.04" stroke="#fff" stroke-opacity="0.2" stroke-width="0.5"/>
<line x1="631.70" y1="59.04" x2="644.90" y2="59.04" stroke="#fff" stroke-opacity="0.2" stroke-width="0.5"/>
<line x1="644.90" y1="59.04" x2="658.10" y2="59.04" stroke="#fff" stroke-opacity="0.2" stroke-width="0.5"/>
<line x1="658.10" y1="59.04" x2="671.30" y2="59.04" stroke="#fff" stroke-opacity="0.2" stroke-width="0.5"/>
<line x1="671.30" y1="59.04" x2="684.50" y2="59.04" stroke="#fff" stroke-opacity="0.2" stroke-width="0.5"/>
<line x1="644.90" y1="47.04" x2="644.90" y2="61.04" stroke="#fff" stroke-opacity="0.22" stroke-width="0.5"/>
<line x1="658.10" y1="47.04" x2="658.10" y2="61.04" stroke="#fff" stroke-opacity="0.22" stroke-width="0.5"/>
<line x1="671.30" y1="47.04" x2="671.30" y2="61.04" stroke="#fff" stroke-opacity="0.22" stroke-width="0.5"/>
<line x1="631.70" y1="65.36" x2="644.90" y2="65.36" stroke="#fff" stroke-opacity="0.2" stroke-width="0.5"/>
<line x1="644.90" y1="65.36" x2="658.10" y2="65.36" stroke="#fff" stroke-opacity="0.2" stroke-width="0.5"/>
<line x1="658.10" y1="65.36" x2="671.30" y2="65.36" stroke="#fff" stroke-opacity="0.2" stroke-width="0.5"/>
<line x1="671.30" y1="65.36" x2="684.50" y2="65.36" stroke="#fff" stroke-opacity="0.2" stroke-width="0.5"/>
<line x1="631.70" y1="67.36" x2="644.90" y2="67.36" stroke="#fff" stroke-opacity="0.2" stroke-width="0.5"/>
<line x1="644.90" y1="67.36" x2="658.10" y2="67.36" stroke="#fff" stroke-opacity="0.2" stroke-width="0.5"/>
<line x1="658.10" y1="67.36" x2="671.30" y2="67.36" stroke="#fff" stroke-opacity="0.2" stroke-width="0.5"/>
<line x1="671.30" y1="67.36" x2="684.50" y2="67.36" stroke="#fff" stroke-opacity="0.2" stroke-width="0.5"/>
<line x1="631.70" y1="69.36" x2="644.90" y2="69.36" stroke="#fff" stroke-opacity="0.2" stroke-width="0.5"/>
<line x1="644.90" y1="69.36" x2="658.10" y2="69.36" stroke="#fff" stroke-opacity="0.2" stroke-width="0.5"/>
<line x1="658.10" y1="69.36" x2="671.30" y2="69.36" stroke="#fff" stroke-opacity="0.2" stroke-width="0.5"/>
<line x1="671.30" y1="69.36" x2="684.50" y2="69.36" stroke="#fff" stroke-opacity="0.2" stroke-width="0.5"/>
<line x1="631.70" y1="71.36" x2="644.90" y2="71.36" stroke="#fff" stroke-opacity="0.2" stroke-width="0.5"/>
<line x1="644.90" y1="71.36" x2="658.10" y2="71.36" stroke="#fff" stroke-opacity="0.2" stroke-width="0.5"/>
<line x1="658.10" y1="71.36" x2="671.30" y2="71.36" stroke="#fff" stroke-opacity="0.2" stroke-width="0.5"/>
<line x1="671.30" y1="71.36" x2="684.50" y2="71.36" stroke="#fff" stroke-opacity="0.2" stroke-width="0.5"/>
<line x1="631.70" y1="73.36" x2="644.90" y2="73.36" stroke="#fff" stroke-opacity="0.2" stroke-width="0.5"/>
<line x1="644.90" y1="73.36" x2="658.10" y2="73.36" stroke="#fff" stroke-opacity="0.2" stroke-width="0.5"/>
<line x1="658.10" y1="73.36" x2="671.30" y2="73.36" stroke="#fff" stroke-opacity="0.2" stroke-width="0.5"/>
<line x1="671.30" y1="73.36" x2="684.50" y2="73.36" stroke="#fff" stroke-opacity="0.2" stroke-width="0.5"/>
<line x1="631.70" y1="75.36" x2="644.90" y2="75.36" stroke="#fff" stroke-opacity="0.2" stroke-width="0.5"/>
<line x1="644.90" y1="75.36" x2="658.10" y2="75.36" stroke="#fff" stroke-opacity="0.2" stroke-width="0.5"/>
<line x1="658.10" y1="75.36" x2="671.30" y2="75.36" stroke="#fff" stroke-opacity="0.2" stroke-width="0.5"/>
<line x1="671.30" y1="75.36" x2="684.50" y2="75.36" stroke="#fff" stroke-opacity="0.2" stroke-width="0.5"/>
<line x1="631.70" y1="77.36" x2="644.90" y2="77.36" stroke="#fff" stroke-opacity="0.2" stroke-width="0.5"/>
<line x1="644.90" y1="77.36" x2="658.10" y2="77.36" stroke="#fff" stroke-opacity="0.2" stroke-width="0.5"/>
<line x1="658.10" y1="77.36" x2="671.30" y2="77.36" stroke="#fff" stroke-opacity="0.2" stroke-width="0.5"/>
<line x1="671.30" y1="77.36" x2="684.50" y2="77.36" stroke="#fff" stroke-opacity="0.2" stroke-width="0.5"/>
<line x1="644.90" y1="63.36" x2="644.90" y2="79.36" stroke="#fff" stroke-opacity="0.22" stroke-width="0.5"/>
<line x1="658.10" y1="63.36" x2="658.10" y2="79.36" stroke="#fff" stroke-opacity="0.22" stroke-width="0.5"/>
<line x1="671.30" y1="63.36" x2="671.30" y2="79.36" stroke="#fff" stroke-opacity="0.22" stroke-width="0.5"/>
<line x1="631.70" y1="83.68" x2="644.90" y2="83.68" stroke="#fff" stroke-opacity="0.2" stroke-width="0.5"/>
<line x1="644.90" y1="83.68" x2="658.10" y2="83.68" stroke="#fff" stroke-opacity="0.2" stroke-width="0.5"/>
<line x1="658.10" y1="83.68" x2="671.30" y2="83.68" stroke="#fff" stroke-opacity="0.2" stroke-width="0.5"/>
<line x1="644.90" y1="81.68" x2="644.90" y2="85.68" stroke="#fff" stroke-opacity="0.22" stroke-width="0.5"/>
<line x1="658.10" y1="81.68" x2="658.10" y2="85.68" stroke="#fff" stroke-opacity="0.22" stroke-width="0.5"/>
<line x1="631.70" y1="90.00" x2="644.90" y2="90.00" stroke="#fff" stroke-opacity="0.2" stroke-width="0.5"/>
<line x1="644.90" y1="90.00" x2="658.10" y2="90.00" stroke="#fff" stroke-opacity="0.2" stroke-width="0.5"/>
<line x1="658.10" y1="90.00" x2="671.30" y2="90.00" stroke="#fff" stroke-opacity="0.2" stroke-width="0.5"/>
<line x1="631.70" y1="92.00" x2="644.90" y2="92.00" stroke="#fff" stroke-opacity="0.2" stroke-width="0.5"/>
<line x1="644.90" y1="92.00" x2="658.10" y2="92.00" stroke="#fff" stroke-opacity="0.2" stroke-width="0.5"/>
<line x1="658.10" y1="92.00" x2="671.30" y2="92.00" stroke="#fff" stroke-opacity="0.2" stroke-width="0.5"/>
<line x1="631.70" y1="94.00" x2="644.90" y2="94.00" stroke="#fff" stroke-opacity="0.2" stroke-width="0.5"/>
<line x1="644.90" y1="94.00" x2="658.10" y2="94.00" stroke="#fff" stroke-opacity="0.2" stroke-width="0.5"/>
<line x1="658.10" y1="94.00" x2="671.30" y2="94.00" stroke="#fff" stroke-opacity="0.2" stroke-width="0.5"/>
<line x1="631.70" y1="96.00" x2="644.90" y2="96.00" stroke="#fff" stroke-opacity="0.2" stroke-width="0.5"/>
<line x1="644.90" y1="96.00" x2="658.10" y2="96.00" stroke="#fff" stroke-opacity="0.2" stroke-width="0.5"/>
<line x1="658.10" y1="96.00" x2="671.30" y2="96.00" stroke="#fff" stroke-opacity="0.2" stroke-width="0.5"/>
<line x1="644.90" y1="88.00" x2="644.90" y2="98.00" stroke="#fff" stroke-opacity="0.22" stroke-width="0.5"/>
<line x1="658.10" y1="88.00" x2="658.10" y2="98.00" stroke="#fff" stroke-opacity="0.22" stroke-width="0.5"/>
<line x1="631.70" y1="102.32" x2="644.90" y2="102.32" stroke="#fff" stroke-opacity="0.2" stroke-width="0.5"/>
<line x1="644.90" y1="102.32" x2="658.10" y2="102.32" stroke="#fff" stroke-opacity="0.2" stroke-width="0.5"/>
<line x1="658.10" y1="102.32" x2="671.30" y2="102.32" stroke="#fff" stroke-opacity="0.2" stroke-width="0.5"/>
<line x1="631.70" y1="104.32" x2="644.90" y2="104.32" stroke="#fff" stroke-opacity="0.2" stroke-width="0.5"/>
<line x1="644.90" y1="104.32" x2="658.10" y2="104.32" stroke="#fff" stroke-opacity="0.2" stroke-width="0.5"/>
<line x1="658.10" y1="104.32" x2="671.30" y2="104.32" stroke="#fff" stroke-opacity="0.2" stroke-width="0.5"/>
<line x1="631.70" y1="106.32" x2="644.90" y2="106.32" stroke="#fff" stroke-opacity="0.2" stroke-width="0.5"/>
<line x1="644.90" y1="106.32" x2="658.10" y2="106.32" stroke="#fff" stroke-opacity="0.2" stroke-width="0.5"/>
<line x1="658.10" y1="106.32" x2="671.30" y2="106.32" stroke="#fff" stroke-opacity="0.2" stroke-width="0.5"/>
<line x1="631.70" y1="108.32" x2="644.90" y2="108.32" stroke="#fff" stroke-opacity="0.2" stroke-width="0.5"/>
<line x1="644.90" y1="108.32" x2="658.10" y2="108.32" stroke="#fff" stroke-opacity="0.2" stroke-width="0.5"/>
<line x1="658.10" y1="108.32" x2="671.30" y2="108.32" stroke="#fff" stroke-opacity="0.2" stroke-width="0.5"/>
<line x1="644.90" y1="100.32" x2="644.90" y2="110.32" stroke="#fff" stroke-opacity="0.22" stroke-width="0.5"/>
<line x1="658.10" y1="100.32" x2="658.10" y2="110.32" stroke="#fff" stroke-opacity="0.22" stroke-width="0.5"/>
<line x1="631.70" y1="114.64" x2="644.90" y2="114.64" stroke="#fff" stroke-opacity="0.2" stroke-width="0.5"/>
<line x1="644.90" y1="114.64" x2="658.10" y2="114.64" stroke="#fff" stroke-opacity="0.2" stroke-width="0.5"/>
<line x1="658.10" y1="114.64" x2="671.30" y2="114.64" stroke="#fff" stroke-opacity="0.2" stroke-width="0.5"/>
<line x1="631.70" y1="116.64" x2="644.90" y2="116.64" stroke="#fff" stroke-opacity="0.2" stroke-width="0.5"/>
<line x1="644.90" y1="116.64" x2="658.10" y2="116.64" stroke="#fff" stroke-opacity="0.2" stroke-width="0.5"/>
<line x1="658.10" y1="116.64" x2="671.30" y2="116.64" stroke="#fff" stroke-opacity="0.2" stroke-width="0.5"/>
<line x1="631.70" y1="118.64" x2="644.90" y2="118.64" stroke="#fff" stroke-opacity="0.2" stroke-width="0.5"/>
<line x1="644.90" y1="118.64" x2="658.10" y2="118.64" stroke="#fff" stroke-opacity="0.2" stroke-width="0.5"/>
<line x1="658.10" y1="118.64" x2="671.30" y2="118.64" stroke="#fff" stroke-opacity="0.2" stroke-width="0.5"/>
<line x1="631.70" y1="120.64" x2="644.90" y2="120.64" stroke="#fff" stroke-opacity="0.2" stroke-width="0.5"/>
<line x1="644.90" y1="120.64" x2="658.10" y2="120.64" stroke="#fff" stroke-opacity="0.2" stroke-width="0.5"/>
<line x1="658.10" y1="120.64" x2="671.30" y2="120.64" stroke="#fff" stroke-opacity="0.2" stroke-width="0.5"/>
<line x1="631.70" y1="122.64" x2="644.90" y2="122.64" stroke="#fff" stroke-opacity="0.2" stroke-width="0.5"/>
<line x1="644.90" y1="122.64" x2="658.10" y2="122.64" stroke="#fff" stroke-opacity="0.2" stroke-width="0.5"/>
<line x1="658.10" y1="122.64" x2="671.30" y2="122.64" stroke="#fff" stroke-opacity="0.2" stroke-width="0.5"/>
<line x1="631.70" y1="124.64" x2="644.90" y2="124.64" stroke="#fff" stroke-opacity="0.2" stroke-width="0.5"/>
<line x1="644.90" y1="124.64" x2="658.10" y2="124.64" stroke="#fff" stroke-opacity="0.2" stroke-width="0.5"/>
<line x1="658.10" y1="124.64" x2="671.30" y2="124.64" stroke="#fff" stroke-opacity="0.2" stroke-width="0.5"/>
<line x1="644.90" y1="112.64" x2="644.90" y2="126.64" stroke="#fff" stroke-opacity="0.22" stroke-width="0.5"/>
<line x1="658.10" y1="112.64" x2="658.10" y2="126.64" stroke="#fff" stroke-opacity="0.22" stroke-width="0.5"/>
<line x1="631.70" y1="130.96" x2="644.90" y2="130.96" stroke="#fff" stroke-opacity="0.2" stroke-width="0.5"/>
<line x1="644.90" y1="130.96" x2="658.10" y2="130.96" stroke="#fff" stroke-opacity="0.2" stroke-width="0.5"/>
<line x1="658.10" y1="130.96" x2="671.30" y2="130.96" stroke="#fff" stroke-opacity="0.2" stroke-width="0.5"/>
<line x1="631.70" y1="132.96" x2="644.90" y2="132.96" stroke="#fff" stroke-opacity="0.2" stroke-width="0.5"/>
<line x1="644.90" y1="132.96" x2="658.10" y2="132.96" stroke="#fff" stroke-opacity="0.2" stroke-width="0.5"/>
<line x1="658.10" y1="132.96" x2="671.30" y2="132.96" stroke="#fff" stroke-opacity="0.2" stroke-width="0.5"/>
<line x1="631.70" y1="134.96" x2="644.90" y2="134.96" stroke="#fff" stroke-opacity="0.2" stroke-width="0.5"/>
<line x1="644.90" y1="134.96" x2="658.10" y2="134.96" stroke="#fff" stroke-opacity="0.2" stroke-width="0.5"/>
<line x1="658.10" y1="134.96" x2="671.30" y2="134.96" stroke="#fff" stroke-opacity="0.2" stroke-width="0.5"/>
<line x1="631.70" y1="136.96" x2="644.90" y2="136.96" stroke="#fff" stroke-opacity="0.2" stroke-width="0.5"/>
<line x1="644.90" y1="136.96" x2="658.10" y2="136.96" stroke="#fff" stroke-opacity="0.2" stroke-width="0.5"/>
<line x1="658.10" y1="136.96" x2="671.30" y2="136.96" stroke="#fff" stroke-opacity="0.2" stroke-width="0.5"/>
<line x1="631.70" y1="138.96" x2="644.90" y2="138.96" stroke="#fff" stroke-opacity="0.2" stroke-width="0.5"/>
<line x1="644.90" y1="138.96" x2="658.10" y2="138.96" stroke="#fff" stroke-opacity="0.2" stroke-width="0.5"/>
<line x1="658.10" y1="138.96" x2="671.30" y2="138.96" stroke="#fff" stroke-opacity="0.2" stroke-width="0.5"/>
<line x1="644.90" y1="128.96" x2="644.90" y2="140.96" stroke="#fff" stroke-opacity="0.22" stroke-width="0.5"/>
<line x1="658.10" y1="128.96" x2="658.10" y2="140.96" stroke="#fff" stroke-opacity="0.22" stroke-width="0.5"/>
<line x1="631.70" y1="145.28" x2="644.90" y2="145.28" stroke="#fff" stroke-opacity="0.2" stroke-width="0.5"/>
<line x1="644.90" y1="145.28" x2="658.10" y2="145.28" stroke="#fff" stroke-opacity="0.2" stroke-width="0.5"/>
<line x1="658.10" y1="145.28" x2="671.30" y2="145.28" stroke="#fff" stroke-opacity="0.2" stroke-width="0.5"/>
<line x1="631.70" y1="147.28" x2="644.90" y2="147.28" stroke="#fff" stroke-opacity="0.2" stroke-width="0.5"/>
<line x1="644.90" y1="147.28" x2="658.10" y2="147.28" stroke="#fff" stroke-opacity="0.2" stroke-width="0.5"/>
<line x1="658.10" y1="147.28" x2="671.30" y2="147.28" stroke="#fff" stroke-opacity="0.2" stroke-width="0.5"/>
<line x1="631.70" y1="149.28" x2="644.90" y2="149.28" stroke="#fff" stroke-opacity="0.2" stroke-width="0.5"/>
<line x1="644.90" y1="149.28" x2="658.10" y2="149.28" stroke="#fff" stroke-opacity="0.2" stroke-width="0.5"/>
<line x1="658.10" y1="149.28" x2="671.30" y2="149.28" stroke="#fff" stroke-opacity="0.2" stroke-width="0.5"/>
<line x1="631.70" y1="151.28" x2="644.90" y2="151.28" stroke="#fff" stroke-opacity="0.2" stroke-width="0.5"/>
<line x1="644.90" y1="151.28" x2="658.10" y2="151.28" stroke="#fff" stroke-opacity="0.2" stroke-width="0.5"/>
<line x1="658.10" y1="151.28" x2="671.30" y2="151.28" stroke="#fff" stroke-opacity="0.2" stroke-width="0.5"/>
<line x1="644.90" y1="143.28" x2="644.90" y2="153.28" stroke="#fff" stroke-opacity="0.22" stroke-width="0.5"/>
<line x1="658.10" y1="143.28" x2="658.10" y2="153.28" stroke="#fff" stroke-opacity="0.22" stroke-width="0.5"/>
<line x1="631.70" y1="157.60" x2="644.90" y2="157.60" stroke="#fff" stroke-opacity="0.2" stroke-width="0.5"/>
<line x1="644.90" y1="157.60" x2="658.10" y2="157.60" stroke="#fff" stroke-opacity="0.2" stroke-width="0.5"/>
<line x1="658.10" y1="157.60" x2="671.30" y2="157.60" stroke="#fff" stroke-opacity="0.2" stroke-width="0.5"/>
<line x1="631.70" y1="159.60" x2="644.90" y2="159.60" stroke="#fff" stroke-opacity="0.2" stroke-width="0.5"/>
<line x1="644.90" y1="159.60" x2="658.10" y2="159.60" stroke="#fff" stroke-opacity="0.2" stroke-width="0.5"/>
<line x1="658.10" y1="159.60" x2="671.30" y2="159.60" stroke="#fff" stroke-opacity="0.2" stroke-width="0.5"/>
<line x1="631.70" y1="161.60" x2="644.90" y2="161.60" stroke="#fff" stroke-opacity="0.2" stroke-width="0.5"/>
<line x1="644.90" y1="161.60" x2="658.10" y2="161.60" stroke="#fff" stroke-opacity="0.2" stroke-width="0.5"/>
<line x1="658.10" y1="161.60" x2="671.30" y2="161.60" stroke="#fff" stroke-opacity="0.2" stroke-width="0.5"/>
<line x1="644.90" y1="155.60" x2="644.90" y2="163.60" stroke="#fff" stroke-opacity="0.22" stroke-width="0.5"/>
<line x1="658.10" y1="155.60" x2="658.10" y2="163.60" stroke="#fff" stroke-opacity="0.22" stroke-width="0.5"/>
<line x1="631.70" y1="167.92" x2="644.90" y2="167.92" stroke="#fff" stroke-opacity="0.2" stroke-width="0.5"/>
<line x1="644.90" y1="167.92" x2="658.10" y2="167.92" stroke="#fff" stroke-opacity="0.2" stroke-width="0.5"/>
<line x1="658.10" y1="167.92" x2="671.30" y2="167.92" stroke="#fff" stroke-opacity="0.2" stroke-width="0.5"/>
<line x1="631.70" y1="169.92" x2="644.90" y2="169.92" stroke="#fff" stroke-opacity="0.2" stroke-width="0.5"/>
<line x1="644.90" y1="169.92" x2="658.10" y2="169.92" stroke="#fff" stroke-opacity="0.2" stroke-width="0.5"/>
<line x1="658.10" y1="169.92" x2="671.30" y2="169.92" stroke="#fff" stroke-opacity="0.2" stroke-width="0.5"/>
<line x1="631.70" y1="171.92" x2="644.90" y2="171.92" stroke="#fff" stroke-opacity="0.2" stroke-width="0.5"/>
<line x1="644.90" y1="171.92" x2="658.10" y2="171.92" stroke="#fff" stroke-opacity="0.2" stroke-width="0.5"/>
<line x1="658.10" y1="171.92" x2="671.30" y2="171.92" stroke="#fff" stroke-opacity="0.2" stroke-width="0.5"/>
<line x1="644.90" y1="165.92" x2="644.90" y2="173.92" stroke="#fff" stroke-opacity="0.22" stroke-width="0.5"/>
<line x1="658.10" y1="165.92" x2="658.10" y2="173.92" stroke="#fff" stroke-opacity="0.22" stroke-width="0.5"/>
<line x1="631.70" y1="178.24" x2="644.90" y2="178.24" stroke="#fff" stroke-opacity="0.2" stroke-width="0.5"/>
<line x1="644.90" y1="178.24" x2="658.10" y2="178.24" stroke="#fff" stroke-opacity="0.2" stroke-width="0.5"/>
<line x1="658.10" y1="178.24" x2="671.30" y2="178.24" stroke="#fff" stroke-opacity="0.2" stroke-width="0.5"/>
<line x1="631.70" y1="180.24" x2="644.90" y2="180.24" stroke="#fff" stroke-opacity="0.2" stroke-width="0.5"/>
<line x1="644.90" y1="180.24" x2="658.10" y2="180.24" stroke="#fff" stroke-opacity="0.2" stroke-width="0.5"/>
<line x1="658.10" y1="180.24" x2="671.30" y2="180.24" stroke="#fff" stroke-opacity="0.2" stroke-width="0.5"/>
<line x1="631.70" y1="182.24" x2="644.90" y2="182.24" stroke="#fff" stroke-opacity="0.2" stroke-width="0.5"/>
<line x1="644.90" y1="182.24" x2="658.10" y2="182.24" stroke="#fff" stroke-opacity="0.2" stroke-width="0.5"/>
<line x1="658.10" y1="182.24" x2="671.30" y2="182.24" stroke="#fff" stroke-opacity="0.2" stroke-width="0.5"/>
<line x1="631.70" y1="184.24" x2="644.90" y2="184.24" stroke="#fff" stroke-opacity="0.2" stroke-width="0.5"/>
<line x1="644.90" y1="184.24" x2="658.10" y2="184.24" stroke="#fff" stroke-opacity="0.2" stroke-width="0.5"/>
<line x1="658.10" y1="184.24" x2="671.30" y2="184.24" stroke="#fff" stroke-opacity="0.2" stroke-width="0.5"/>
<line x1="644.90" y1="176.24" x2="644.90" y2="186.24" stroke="#fff" stroke-opacity="0.22" stroke-width="0.5"/>
<line x1="658.10" y1="176.24" x2="658.10" y2="186.24" stroke="#fff" stroke-opacity="0.22" stroke-width="0.5"/>
<line x1="631.70" y1="190.56" x2="644.90" y2="190.56" stroke="#fff" stroke-opacity="0.2" stroke-width="0.5"/>
<line x1="644.90" y1="190.56" x2="658.10" y2="190.56" stroke="#fff" stroke-opacity="0.2" stroke-width="0.5"/>
<line x1="631.70" y1="192.56" x2="644.90" y2="192.56" stroke="#fff" stroke-opacity="0.2" stroke-width="0.5"/>
<line x1="644.90" y1="192.56" x2="658.10" y2="192.56" stroke="#fff" stroke-opacity="0.2" stroke-width="0.5"/>
<line x1="631.70" y1="194.56" x2="644.90" y2="194.56" stroke="#fff" stroke-opacity="0.2" stroke-width="0.5"/>
<line x1="644.90" y1="194.56" x2="658.10" y2="194.56" stroke="#fff" stroke-opacity="0.2" stroke-width="0.5"/>
<line x1="644.90" y1="188.56" x2="644.90" y2="196.56" stroke="#fff" stroke-opacity="0.22" stroke-width="0.5"/>
<line x1="631.70" y1="200.88" x2="644.90" y2="200.88" stroke="#fff" stroke-opacity="0.2" stroke-width="0.5"/>
<line x1="644.90" y1="200.88" x2="658.10" y2="200.88" stroke="#fff" stroke-opacity="0.2" stroke-width="0.5"/>
<line x1="631.70" y1="202.88" x2="644.90" y2="202.88" stroke="#fff" stroke-opacity="0.2" stroke-width="0.5"/>
<line x1="644.90" y1="202.88" x2="658.10" y2="202.88" stroke="#fff" stroke-opacity="0.2" stroke-width="0.5"/>
<line x1="631.70" y1="204.88" x2="644.90" y2="204.88" stroke="#fff" stroke-opacity="0.2" stroke-width="0.5"/>
<line x1="644.90" y1="204.88" x2="658.10" y2="204.88" stroke="#fff" stroke-opacity="0.2" stroke-width="0.5"/>
<line x1="644.90" y1="198.88" x2="644.90" y2="206.88" stroke="#fff" stroke-opacity="0.22" stroke-width="0.5"/>
<line x1="631.70" y1="211.20" x2="644.90" y2="211.20" stroke="#fff" stroke-opacity="0.2" stroke-width="0.5"/>
<line x1="644.90" y1="211.20" x2="658.10" y2="211.20" stroke="#fff" stroke-opacity="0.2" stroke-width="0.5"/>
<line x1="631.70" y1="213.20" x2="644.90" y2="213.20" stroke="#fff" stroke-opacity="0.2" stroke-width="0.5"/>
<line x1="644.90" y1="213.20" x2="658.10" y2="213.20" stroke="#fff" stroke-opacity="0.2" stroke-width="0.5"/>
<line x1="631.70" y1="215.20" x2="644.90" y2="215.20" stroke="#fff" stroke-opacity="0.2" stroke-width="0.5"/>
<line x1="644.90" y1="215.20" x2="658.10" y2="215.20" stroke="#fff" stroke-opacity="0.2" stroke-width="0.5"/>
<line x1="644.90" y1="209.20" x2="644.90" y2="217.20" stroke="#fff" stroke-opacity="0.22" stroke-width="0.5"/>
<line x1="631.70" y1="221.52" x2="644.90" y2="221.52" stroke="#fff" stroke-opacity="0.2" stroke-width="0.5"/>
<line x1="644.90" y1="221.52" x2="658.10" y2="221.52" stroke="#fff" stroke-opacity="0.2" stroke-width="0.5"/>
<line x1="631.70" y1="223.52" x2="644.90" y2="223.52" stroke="#fff" stroke-opacity="0.2" stroke-width="0.5"/>
<line x1="644.90" y1="223.52" x2="658.10" y2="223.52" stroke="#fff" stroke-opacity="0.2" stroke-width="0.5"/>
<line x1="631.70" y1="225.52" x2="644.90" y2="225.52" stroke="#fff" stroke-opacity="0.2" stroke-width="0.5"/>
<line x1="644.90" y1="225.52" x2="658.10" y2="225.52" stroke="#fff" stroke-opacity="0.2" stroke-width="0.5"/>
<line x1="631.70" y1="227.52" x2="644.90" y2="227.52" stroke="#fff" stroke-opacity="0.2" stroke-width="0.5"/>
<line x1="644.90" y1="227.52" x2="658.10" y2="227.52" stroke="#fff" stroke-opacity="0.2" stroke-width="0.5"/>
<line x1="631.70" y1="229.52" x2="644.90" y2="229.52" stroke="#fff" stroke-opacity="0.2" stroke-width="0.5"/>
<line x1="644.90" y1="229.52" x2="658.10" y2="229.52" stroke="#fff" stroke-opacity="0.2" stroke-width="0.5"/>
<line x1="631.70" y1="231.52" x2="644.90" y2="231.52" stroke="#fff" stroke-opacity="0.2" stroke-width="0.5"/>
<line x1="644.90" y1="231.52" x2="658.10" y2="231.52" stroke="#fff" stroke-opacity="0.2" stroke-width="0.5"/>
<line x1="631.70" y1="233.52" x2="644.90" y2="233.52" stroke="#fff" stroke-opacity="0.2" stroke-width="0.5"/>
<line x1="644.90" y1="233.52" x2="658.10" y2="233.52" stroke="#fff" stroke-opacity="0.2" stroke-width="0.5"/>
<line x1="644.90" y1="219.52" x2="644.90" y2="235.52" stroke="#fff" stroke-opacity="0.22" stroke-width="0.5"/>
<line x1="631.70" y1="239.84" x2="644.90" y2="239.84" stroke="#fff" stroke-opacity="0.2" stroke-width="0.5"/>
<line x1="644.90" y1="239.84" x2="658.10" y2="239.84" stroke="#fff" stroke-opacity="0.2" stroke-width="0.5"/>
<line x1="631.70" y1="241.84" x2="644.90" y2="241.84" stroke="#fff" stroke-opacity="0.2" stroke-width="0.5"/>
<line x1="644.90" y1="241.84" x2="658.10" y2="241.84" stroke="#fff" stroke-opacity="0.2" stroke-width="0.5"/>
<line x1="631.70" y1="243.84" x2="644.90" y2="243.84" stroke="#fff" stroke-opacity="0.2" stroke-width="0.5"/>
<line x1="644.90" y1="243.84" x2="658.10" y2="243.84" stroke="#fff" stroke-opacity="0.2" stroke-width="0.5"/>
<line x1="631.70" y1="245.84" x2="644.90" y2="245.84" stroke="#fff" stroke-opacity="0.2" stroke-width="0.5"/>
<line x1="644.90" y1="245.84" x2="658.10" y2="245.84" stroke="#fff" stroke-opacity="0.2" stroke-width="0.5"/>
<line x1="631.70" y1="247.84" x2="644.90" y2="247.84" stroke="#fff" stroke-opacity="0.2" stroke-width="0.5"/>
<line x1="644.90" y1="247.84" x2="658.10" y2="247.84" stroke="#fff" stroke-opacity="0.2" stroke-width="0.5"/>
<line x1="631.70" y1="249.84" x2="644.90" y2="249.84" stroke="#fff" stroke-opacity="0.2" stroke-width="0.5"/>
<line x1="644.90" y1="249.84" x2="658.10" y2="249.84" stroke="#fff" stroke-opacity="0.2" stroke-width="0.5"/>
<line x1="644.90" y1="237.84" x2="644.90" y2="251.84" stroke="#fff" stroke-opacity="0.22" stroke-width="0.5"/>
<line x1="631.70" y1="256.16" x2="644.90" y2="256.16" stroke="#fff" stroke-opacity="0.2" stroke-width="0.5"/>
<line x1="644.90" y1="256.16" x2="658.10" y2="256.16" stroke="#fff" stroke-opacity="0.2" stroke-width="0.5"/>
<line x1="631.70" y1="258.16" x2="644.90" y2="258.16" stroke="#fff" stroke-opacity="0.2" stroke-width="0.5"/>
<line x1="644.90" y1="258.16" x2="658.10" y2="258.16" stroke="#fff" stroke-opacity="0.2" stroke-width="0.5"/>
<line x1="631.70" y1="260.16" x2="644.90" y2="260.16" stroke="#fff" stroke-opacity="0.2" stroke-width="0.5"/>
<line x1="644.90" y1="260.16" x2="658.10" y2="260.16" stroke="#fff" stroke-opacity="0.2" stroke-width="0.5"/>
<line x1="631.70" y1="262.16" x2="644.90" y2="262.16" stroke="#fff" stroke-opacity="0.2" stroke-width="0.5"/>
<line x1="644.90" y1="262.16" x2="658.10" y2="262.16" stroke="#fff" stroke-opacity="0.2" stroke-width="0.5"/>
<line x1="631.70" y1="264.16" x2="644.90" y2="264.16" stroke="#fff" stroke-opacity="0.2" stroke-width="0.5"/>
<line x1="644.90" y1="264.16" x2="658.10" y2="264.16" stroke="#fff" stroke-opacity="0.2" stroke-width="0.5"/>
<line x1="631.70" y1="266.16" x2="644.90" y2="266.16" stroke="#fff" stroke-opacity="0.2" stroke-width="0.5"/>
<line x1="644.90" y1="266.16" x2="658.10" y2="266.16" stroke="#fff" stroke-opacity="0.2" stroke-width="0.5"/>
<line x1="644.90" y1="254.16" x2="644.90" y2="268.16" stroke="#fff" stroke-opacity="0.22" stroke-width="0.5"/>
<line x1="631.70" y1="272.48" x2="644.90" y2="272.48" stroke="#fff" stroke-opacity="0.2" stroke-width="0.5"/>
<line x1="644.90" y1="272.48" x2="658.10" y2="272.48" stroke="#fff" stroke-opacity="0.2" stroke-width="0.5"/>
<line x1="631.70" y1="274.48" x2="644.90" y2="274.48" stroke="#fff" stroke-opacity="0.2" stroke-width="0.5"/>
<line x1="644.90" y1="274.48" x2="658.10" y2="274.48" stroke="#fff" stroke-opacity="0.2" stroke-width="0.5"/>
<line x1="644.90" y1="270.48" x2="644.90" y2="276.48" stroke="#fff" stroke-opacity="0.22" stroke-width="0.5"/>
<line x1="631.70" y1="280.80" x2="644.90" y2="280.80" stroke="#fff" stroke-opacity="0.2" stroke-width="0.5"/>
<line x1="644.90" y1="280.80" x2="658.10" y2="280.80" stroke="#fff" stroke-opacity="0.2" stroke-width="0.5"/>
<line x1="631.70" y1="282.80" x2="644.90" y2="282.80" stroke="#fff" stroke-opacity="0.2" stroke-width="0.5"/>
<line x1="644.90" y1="282.80" x2="658.10" y2="282.80" stroke="#fff" stroke-opacity="0.2" stroke-width="0.5"/>
<line x1="631.70" y1="284.80" x2="644.90" y2="284.80" stroke="#fff" stroke-opacity="0.2" stroke-width="0.5"/>
<line x1="644.90" y1="284.80" x2="658.10" y2="284.80" stroke="#fff" stroke-opacity="0.2" stroke-width="0.5"/>
<line x1="644.90" y1="278.80" x2="644.90" y2="286.80" stroke="#fff" stroke-opacity="0.22" stroke-width="0.5"/>
<text transform="translate(626.9,155.3) rotate(-90) scale(1,1.12)" font-size="7.8" text-anchor="middle" fill="#111">Mutations (n=109) grouped by patient (n=21)</text>
</svg></body></html>
